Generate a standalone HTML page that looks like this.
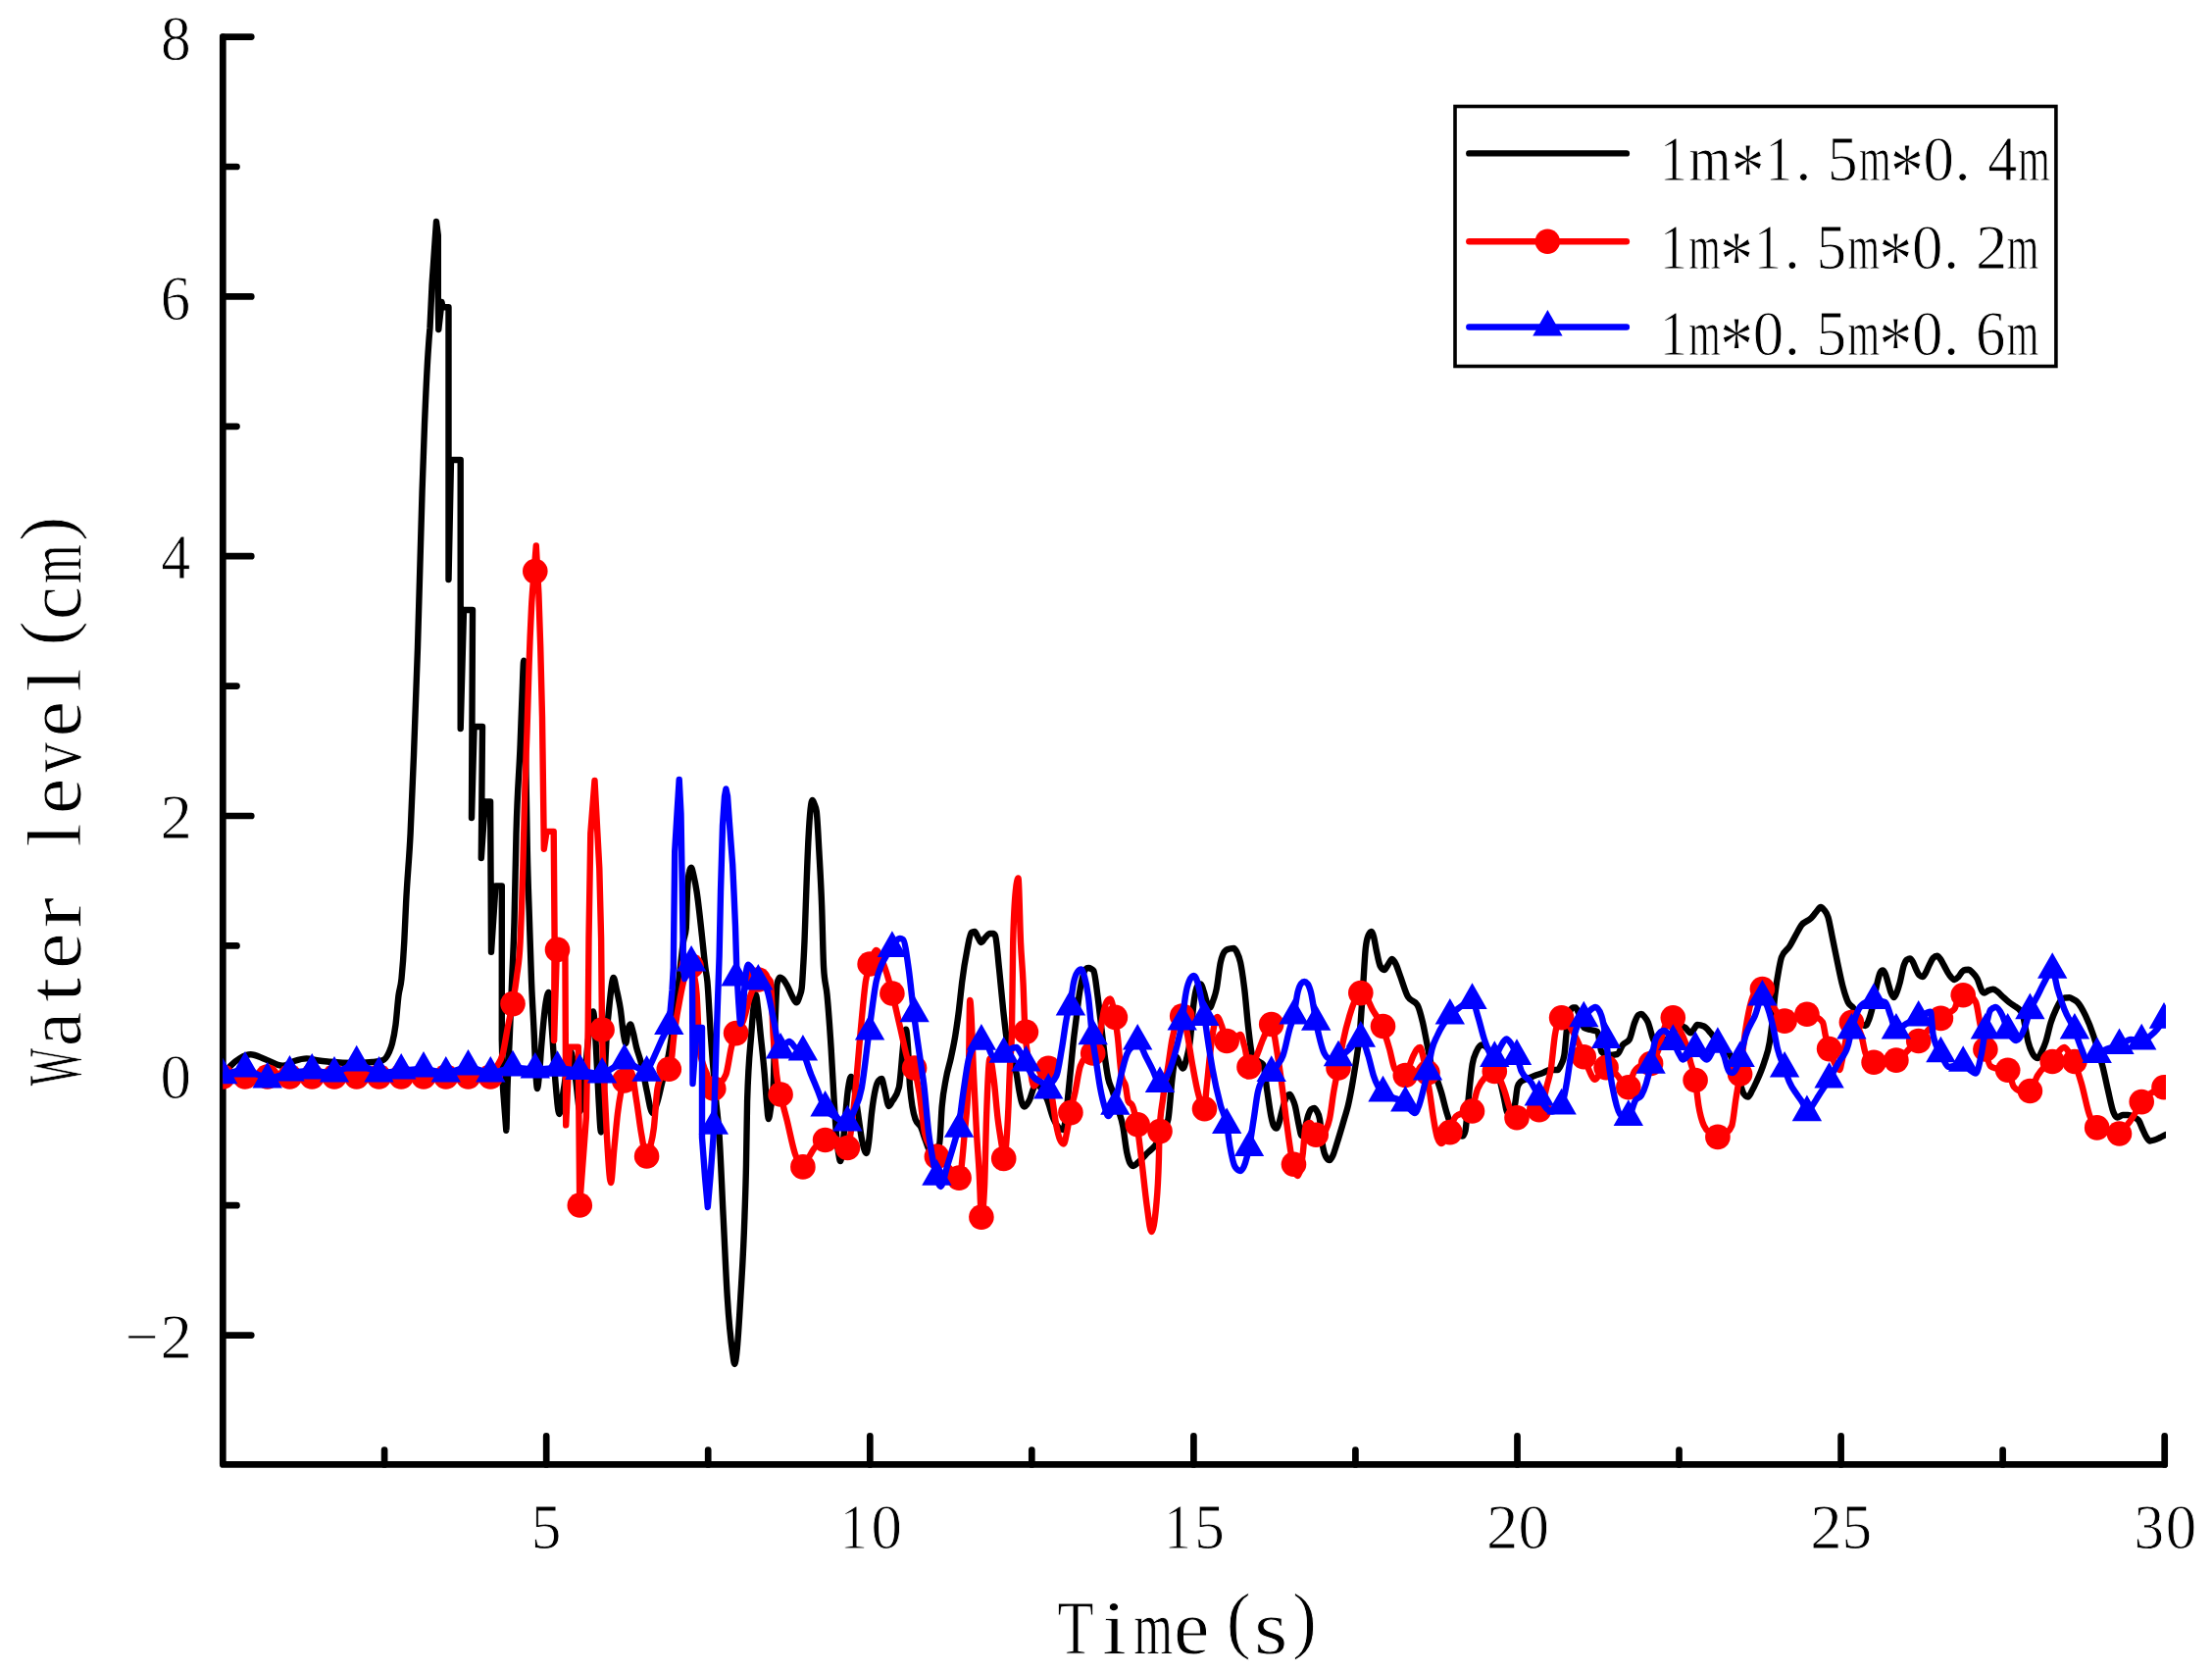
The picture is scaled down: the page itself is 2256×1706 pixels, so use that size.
<!DOCTYPE html>
<html lang="en"><head><meta charset="utf-8"><title>Water level vs Time</title>
<style>
html,body{margin:0;padding:0;background:#fff;}
svg{display:block;}
text{font-family:"Liberation Serif","DejaVu Serif",serif;fill:#000;stroke:#fff;stroke-width:0.9;vector-effect:non-scaling-stroke;}
.ax{stroke:#000;stroke-width:6.7;fill:none;stroke-linecap:round;stroke-linejoin:round;}
.ln{fill:none;stroke-width:6.4;stroke-linejoin:round;stroke-linecap:round;}
</style></head><body>
<svg width="2256" height="1706" viewBox="0 0 2256 1706">
<rect width="2256" height="1706" fill="#fff"/>
<defs><clipPath id="pc"><rect x="227.2" y="20" width="1981.8" height="1473.4"/></clipPath></defs>

<path class="ax" d="M227.3,37.6 V1493.4 H2207.7"/>
<path class="ax" d="M227.3,37.6 h29 M227.3,302.4 h29 M227.3,567.2 h29 M227.3,832.0 h29 M227.3,1096.8 h29 M227.3,1361.6 h29 M227.3,170.0 h14.2 M227.3,434.8 h14.2 M227.3,699.6 h14.2 M227.3,964.4 h14.2 M227.3,1229.2 h14.2 M557.2,1493.4 v-29 M887.3,1493.4 v-29 M1217.4,1493.4 v-29 M1547.5,1493.4 v-29 M1877.6,1493.4 v-29 M2207.7,1493.4 v-29 M392.1,1493.4 v-14.8 M722.2,1493.4 v-14.8 M1052.3,1493.4 v-14.8 M1382.4,1493.4 v-14.8 M1712.5,1493.4 v-14.8 M2042.6,1493.4 v-14.8"/>
<g id="yticks">
<text font-size="65"><tspan x="163.94" y="60.80" textLength="30.73" lengthAdjust="spacingAndGlyphs">8</tspan></text>
<text font-size="65"><tspan x="163.68" y="325.60" textLength="30.40" lengthAdjust="spacingAndGlyphs">6</tspan></text>
<text font-size="65"><tspan x="164.22" y="590.40" textLength="29.98" lengthAdjust="spacingAndGlyphs">4</tspan></text>
<text font-size="65"><tspan x="163.51" y="855.20" textLength="32.38" lengthAdjust="spacingAndGlyphs">2</tspan></text>
<text font-size="65"><tspan x="163.55" y="1120.00" textLength="31.50" lengthAdjust="spacingAndGlyphs">0</tspan></text>
<text font-size="65"><tspan x="127.97" y="1384.80" textLength="33.81" lengthAdjust="spacingAndGlyphs">−</tspan><tspan x="163.51" y="1384.80" textLength="32.38" lengthAdjust="spacingAndGlyphs">2</tspan></text>
</g>
<g id="xticks">
<text font-size="65"><tspan x="541.87" y="1579.30" textLength="30.64" lengthAdjust="spacingAndGlyphs">5</tspan></text>
<text font-size="65"><tspan x="857.05" y="1579.30" textLength="27.67" lengthAdjust="spacingAndGlyphs">1</tspan><tspan x="888.40" y="1579.30" textLength="31.50" lengthAdjust="spacingAndGlyphs">0</tspan></text>
<text font-size="65"><tspan x="1187.15" y="1579.30" textLength="27.67" lengthAdjust="spacingAndGlyphs">1</tspan><tspan x="1218.32" y="1579.30" textLength="30.64" lengthAdjust="spacingAndGlyphs">5</tspan></text>
<text font-size="65"><tspan x="1516.06" y="1579.30" textLength="32.38" lengthAdjust="spacingAndGlyphs">2</tspan><tspan x="1548.60" y="1579.30" textLength="31.50" lengthAdjust="spacingAndGlyphs">0</tspan></text>
<text font-size="65"><tspan x="1846.16" y="1579.30" textLength="32.38" lengthAdjust="spacingAndGlyphs">2</tspan><tspan x="1878.52" y="1579.30" textLength="30.64" lengthAdjust="spacingAndGlyphs">5</tspan></text>
<text font-size="65"><tspan x="2176.45" y="1579.30" textLength="30.63" lengthAdjust="spacingAndGlyphs">3</tspan><tspan x="2208.80" y="1579.30" textLength="31.50" lengthAdjust="spacingAndGlyphs">0</tspan></text>
</g>
<g id="xlabel"><text font-size="79"><tspan x="1078.57" y="1685.50" textLength="37.16" lengthAdjust="spacingAndGlyphs">T</tspan><tspan x="1124.27" y="1685.50" textLength="24.58" lengthAdjust="spacingAndGlyphs">i</tspan><tspan x="1156.13" y="1685.50" textLength="39.71" lengthAdjust="spacingAndGlyphs">m</tspan><tspan x="1197.14" y="1685.50" textLength="36.48" lengthAdjust="spacingAndGlyphs">e</tspan><tspan x="1250.79" y="1676.60" textLength="24.93" lengthAdjust="spacingAndGlyphs" font-size="77.14">(</tspan><tspan x="1279.04" y="1685.50" textLength="34.37" lengthAdjust="spacingAndGlyphs">s</tspan><tspan x="1317.92" y="1676.60" textLength="24.93" lengthAdjust="spacingAndGlyphs" font-size="77.14">)</tspan></text></g>
<g id="ylabel"><text font-size="79" transform="translate(82.3,1088) rotate(-90)"><tspan x="-19.18" y="0.00" textLength="38.40" lengthAdjust="spacingAndGlyphs">W</tspan><tspan x="20.84" y="0.00" textLength="35.47" lengthAdjust="spacingAndGlyphs">a</tspan><tspan x="66.14" y="0.00" textLength="25.24" lengthAdjust="spacingAndGlyphs">t</tspan><tspan x="99.94" y="0.00" textLength="36.48" lengthAdjust="spacingAndGlyphs">e</tspan><tspan x="141.26" y="0.00" textLength="32.00" lengthAdjust="spacingAndGlyphs">r</tspan> <tspan x="224.38" y="0.00" textLength="24.58" lengthAdjust="spacingAndGlyphs">l</tspan><tspan x="257.74" y="0.00" textLength="36.48" lengthAdjust="spacingAndGlyphs">e</tspan><tspan x="300.21" y="0.00" textLength="30.77" lengthAdjust="spacingAndGlyphs">v</tspan><tspan x="336.64" y="0.00" textLength="36.48" lengthAdjust="spacingAndGlyphs">e</tspan><tspan x="382.18" y="0.00" textLength="24.58" lengthAdjust="spacingAndGlyphs">l</tspan><tspan x="429.74" y="-8.90" textLength="24.93" lengthAdjust="spacingAndGlyphs" font-size="77.14">(</tspan><tspan x="456.09" y="0.00" textLength="34.00" lengthAdjust="spacingAndGlyphs">c</tspan><tspan x="492.88" y="0.00" textLength="39.71" lengthAdjust="spacingAndGlyphs">m</tspan><tspan x="536.32" y="-8.90" textLength="24.93" lengthAdjust="spacingAndGlyphs" font-size="77.14">)</tspan></text></g>
<g clip-path="url(#pc)">
<path class="ln" stroke="#000" d="M227.1,1097.0 C229.7,1093.7 232.4,1089.8 235.0,1087.0 C238.3,1083.5 241.7,1080.9 245.0,1079.0 C248.6,1076.9 252.1,1075.3 255.7,1075.3 C260.5,1075.3 265.2,1078.3 270.0,1080.0 C276.1,1082.1 282.2,1086.8 288.3,1086.8 C292.2,1086.8 296.1,1083.2 300.0,1082.0 C304.2,1080.7 308.5,1079.4 312.7,1079.4 C316.8,1079.4 320.9,1080.9 325.0,1081.5 C329.0,1082.1 333.0,1082.4 337.0,1082.8 C344.7,1083.5 352.3,1084.0 360.0,1084.0 C366.7,1084.0 373.3,1083.7 380.0,1083.0 C383.3,1082.7 386.7,1082.5 390.0,1081.4 C392.3,1080.7 394.5,1078.2 396.8,1073.0 C397.9,1070.5 398.9,1068.3 400.0,1064.0 C401.2,1059.3 402.3,1054.2 403.5,1045.0 C404.5,1037.1 405.5,1022.8 406.5,1015.0 C407.5,1007.2 408.5,1007.8 409.5,998.0 C410.4,988.9 411.4,977.3 412.3,960.0 C412.9,948.9 413.5,933.0 414.1,921.0 C415.6,891.0 417.1,880.3 418.6,850.0 C419.7,827.1 420.9,798.7 422.0,770.0 C423.3,736.2 424.7,701.2 426.0,660.0 C427.5,612.6 429.1,546.4 430.6,500.0 C431.4,475.8 432.2,452.9 433.0,433.0 C434.2,403.9 435.3,379.7 436.5,361.0 L437.6,345.0 L438.5,334.5 L440.6,289.7 L443.7,244.8 L445.0,226.0 L446.8,240.0 L446.8,303.0 L447.3,336.0 L450.5,308.0 L451.5,313.3 L457.5,313.3 L457.5,591.0 L460.0,469.0 L469.7,469.0 L469.7,743.0 L473.0,622.0 L482.0,622.0 L481.0,834.0 L483.6,741.0 L492.0,741.0 L490.8,875.0 L494.8,817.4 L500.1,817.4 L501.0,970.7 L505.5,903.4 L511.8,903.4 L511.8,1060.0 L513.0,1110.0 L516.3,1152.8 C516.7,1152.8 517.1,1122.4 517.5,1110.0 C518.2,1089.4 518.8,1079.7 519.5,1064.0 C520.3,1044.3 521.2,1023.7 522.0,1003.0 C522.8,982.3 523.7,970.2 524.5,940.0 C525.2,915.9 525.8,875.0 526.5,850.0 C527.9,798.8 529.2,794.1 530.6,760.0 C531.2,744.2 531.9,725.0 532.5,710.0 C533.1,696.6 533.6,673.7 534.2,673.7 C534.8,673.7 535.4,727.8 536.0,760.0 C536.6,792.2 537.2,838.4 537.8,867.0 C538.5,901.9 539.3,916.9 540.0,940.0 C540.7,961.0 541.3,983.0 542.0,1000.0 C542.8,1021.3 543.7,1032.2 544.5,1050.0 C545.2,1064.3 545.8,1084.8 546.5,1095.0 C547.0,1102.7 547.5,1110.0 548.0,1110.0 C548.7,1110.0 549.3,1101.8 550.0,1095.0 C550.7,1087.9 551.4,1076.0 552.1,1067.6 C553.6,1049.5 555.1,1032.0 556.6,1022.8 C557.6,1016.8 558.5,1012.0 559.5,1012.0 C560.6,1012.0 561.8,1035.0 562.9,1049.7 C564.1,1065.2 565.3,1089.3 566.5,1103.4 C567.8,1119.0 569.2,1136.0 570.5,1136.0 C572.0,1136.0 573.5,1118.5 575.0,1110.0 C577.3,1096.8 579.7,1072.0 582.0,1072.0 C583.7,1072.0 585.3,1089.3 587.0,1100.0 C588.5,1109.8 590.1,1133.0 591.6,1133.0 C593.1,1133.0 594.5,1112.9 596.0,1100.0 C597.3,1088.3 598.7,1070.8 600.0,1060.0 C601.7,1046.5 603.3,1031.5 605.0,1031.5 C606.0,1031.5 607.0,1053.3 608.0,1070.0 C608.8,1084.0 609.7,1105.9 610.5,1120.0 C611.3,1134.1 612.2,1154.5 613.0,1154.5 C614.0,1154.5 615.0,1127.7 616.0,1110.0 C616.8,1095.3 617.7,1073.7 618.5,1060.0 C619.7,1040.8 620.8,1030.4 622.0,1020.0 C623.2,1009.0 624.5,997.0 625.7,997.0 C626.8,997.0 627.9,1005.1 629.0,1010.0 C630.3,1015.6 631.5,1020.5 632.8,1029.0 C633.9,1036.1 634.9,1048.9 636.0,1055.0 C636.8,1059.4 637.5,1064.0 638.3,1064.0 C639.0,1064.0 639.8,1053.2 640.5,1050.0 C641.3,1046.5 642.1,1044.5 642.9,1044.5 C643.8,1044.5 644.6,1048.9 645.5,1052.0 C646.7,1056.1 647.8,1062.9 649.0,1067.6 C650.8,1074.7 652.5,1078.1 654.3,1085.5 C656.1,1093.0 657.9,1104.4 659.7,1112.4 C661.6,1121.0 663.6,1135.0 665.5,1135.0 C667.0,1135.0 668.5,1129.6 670.0,1125.0 C671.7,1119.9 673.3,1111.9 675.0,1105.0 C677.3,1095.4 679.7,1087.9 682.0,1075.0 C683.3,1067.6 684.7,1059.0 686.0,1050.0 C687.3,1041.0 688.7,1031.8 690.0,1021.0 C691.3,1010.2 692.7,996.5 694.0,985.0 C695.0,976.4 696.0,966.5 697.0,960.0 C697.9,954.2 698.8,955.7 699.7,947.0 C700.1,942.8 700.6,917.7 701.0,909.0 C701.7,895.7 702.3,891.9 703.0,889.0 C703.6,886.2 704.3,884.8 704.9,884.8 C705.8,884.8 706.6,889.4 707.5,893.0 C708.5,897.3 709.6,902.7 710.6,909.3 C712.4,920.9 714.2,938.7 716.0,955.0 C717.1,965.3 718.3,978.2 719.4,987.0 C720.1,992.2 720.7,993.9 721.4,1000.7 C722.5,1012.3 723.7,1038.7 724.8,1055.0 C725.5,1064.6 726.1,1073.4 726.8,1082.0 C727.9,1095.7 728.9,1108.0 730.0,1120.0 C731.2,1133.5 732.4,1139.8 733.6,1158.0 C735.0,1178.7 736.3,1213.9 737.7,1241.4 C739.1,1268.9 740.4,1301.1 741.8,1322.8 C743.6,1351.3 745.4,1367.6 747.2,1380.0 C747.9,1384.6 748.5,1391.0 749.2,1391.0 C749.9,1391.0 750.6,1385.9 751.3,1380.0 C752.6,1368.9 754.0,1345.5 755.3,1322.8 C756.7,1299.5 758.0,1282.4 759.4,1241.4 C759.9,1225.4 760.5,1212.8 761.0,1187.0 C761.4,1169.2 761.7,1134.9 762.1,1122.8 C763.5,1077.6 764.8,1073.4 766.2,1055.0 C767.0,1044.7 767.7,1034.7 768.5,1028.0 C769.3,1021.0 770.1,1014.3 770.9,1014.3 C771.6,1014.3 772.3,1022.4 773.0,1028.0 C773.9,1035.2 774.8,1046.0 775.7,1055.0 C777.1,1068.6 778.4,1079.1 779.8,1095.7 C780.5,1104.6 781.3,1117.0 782.0,1125.0 C782.6,1131.5 783.2,1141.0 783.8,1141.0 C784.5,1141.0 785.3,1134.7 786.0,1130.0 C786.9,1124.5 787.7,1123.1 788.6,1109.3 C789.3,1098.7 789.9,1059.1 790.6,1041.4 C791.3,1023.7 791.9,1006.0 792.6,1003.0 C793.5,998.7 794.5,996.6 795.4,996.6 C797.9,996.6 800.3,1000.6 802.8,1004.8 C804.5,1007.8 806.3,1012.9 808.0,1016.0 C809.4,1018.6 810.9,1022.4 812.3,1022.4 C813.4,1022.4 814.4,1019.3 815.5,1016.0 C816.2,1013.7 817.0,1013.2 817.7,1007.5 C818.2,1003.9 818.6,994.9 819.1,987.0 C819.6,979.1 820.0,971.3 820.5,960.0 C820.9,949.5 821.4,934.7 821.8,922.8 C822.7,898.1 823.6,872.1 824.5,855.0 C825.2,841.7 825.9,831.3 826.6,825.0 C827.3,819.0 827.9,816.0 828.6,816.0 C829.3,816.0 829.9,818.2 830.6,820.0 C831.3,821.9 832.0,822.3 832.7,827.0 C833.6,833.0 834.5,852.5 835.4,868.5 C836.3,884.5 837.2,898.5 838.1,922.8 C838.8,940.8 839.4,976.3 840.1,987.0 C841.2,1005.2 842.4,1002.5 843.5,1014.3 C844.9,1028.5 846.2,1046.8 847.6,1068.5 C848.5,1082.8 849.4,1101.3 850.3,1116.0 C851.2,1130.7 852.1,1146.2 853.0,1156.7 C853.8,1166.4 854.7,1173.3 855.5,1178.0 C856.0,1181.0 856.6,1184.0 857.1,1184.0 C857.7,1184.0 858.4,1179.7 859.0,1175.0 C860.0,1167.6 861.0,1150.8 862.0,1140.0 C863.0,1129.2 864.0,1117.0 865.0,1110.0 C866.0,1103.0 867.0,1098.0 868.0,1098.0 C869.0,1098.0 870.0,1103.2 871.0,1108.0 C872.3,1114.4 873.7,1126.0 875.0,1135.0 C876.3,1144.0 877.7,1155.3 879.0,1162.0 C880.5,1169.7 882.1,1176.0 883.6,1176.0 C884.4,1176.0 885.2,1170.6 886.0,1165.0 C887.0,1158.0 888.0,1143.4 889.0,1135.0 C890.3,1123.8 891.7,1115.6 893.0,1110.0 C894.0,1105.8 895.0,1103.2 896.0,1102.0 C897.1,1100.7 898.1,1100.0 899.2,1100.0 C900.1,1100.0 901.1,1106.5 902.0,1110.0 C903.5,1115.7 905.1,1128.0 906.6,1128.0 C907.7,1128.0 908.9,1124.9 910.0,1123.0 C912.3,1119.2 914.5,1118.3 916.8,1109.0 C918.2,1103.4 919.5,1082.4 920.9,1068.5 C921.4,1063.1 922.0,1053.7 922.5,1052.0 C923.0,1050.4 923.5,1049.6 924.0,1049.6 C924.7,1049.6 925.3,1058.3 926.0,1068.0 C926.7,1077.7 927.3,1099.4 928.0,1107.5 C929.9,1130.1 931.7,1136.1 933.6,1141.4 C935.4,1146.5 937.2,1145.2 939.0,1149.0 C940.7,1152.6 942.3,1158.8 944.0,1163.0 C945.3,1166.3 946.7,1172.0 948.0,1172.0 C949.7,1172.0 951.3,1172.0 953.0,1172.0 C954.7,1172.0 956.3,1170.3 958.0,1167.0 C958.9,1165.2 959.8,1138.3 960.7,1128.0 C962.1,1112.4 963.4,1107.8 964.8,1100.0 C966.5,1090.1 968.3,1086.2 970.0,1078.0 C971.4,1071.2 972.9,1064.8 974.3,1056.0 C975.5,1048.4 976.8,1040.0 978.0,1030.0 C979.0,1021.6 980.1,1010.3 981.1,1002.0 C982.9,987.5 984.7,977.1 986.5,968.0 C987.9,961.1 989.2,951.8 990.6,951.0 C991.7,950.3 992.9,950.0 994.0,950.0 C995.2,950.0 996.3,954.1 997.5,956.0 C998.6,957.7 999.6,961.0 1000.7,961.0 C1002.1,961.0 1003.6,957.5 1005.0,956.0 C1006.5,954.4 1008.1,952.0 1009.6,952.0 C1010.7,952.0 1011.9,952.0 1013.0,952.0 C1013.7,952.0 1014.3,952.7 1015.0,954.0 C1016.4,956.7 1017.7,975.8 1019.1,988.5 C1020.4,1000.9 1021.8,1017.0 1023.1,1029.3 C1024.5,1041.9 1025.8,1054.6 1027.2,1063.2 C1028.8,1073.2 1030.4,1076.7 1032.0,1082.0 C1033.6,1087.2 1035.1,1087.2 1036.7,1095.0 C1037.6,1099.5 1038.5,1107.1 1039.4,1112.0 C1040.3,1116.7 1041.1,1121.3 1042.0,1124.0 C1042.9,1127.0 1043.9,1128.5 1044.8,1128.5 C1045.7,1128.5 1046.6,1127.2 1047.5,1126.0 C1048.4,1124.7 1049.4,1123.1 1050.3,1121.0 C1051.5,1118.2 1052.8,1112.6 1054.0,1110.0 C1055.3,1107.1 1056.7,1105.0 1058.0,1105.0 C1059.7,1105.0 1061.3,1109.3 1063.0,1112.0 C1064.6,1114.6 1066.3,1117.2 1067.9,1121.0 C1070.2,1126.3 1072.4,1136.4 1074.7,1141.4 C1076.5,1145.3 1078.2,1148.3 1080.0,1150.0 C1081.3,1151.3 1082.7,1152.0 1084.0,1152.0 C1085.0,1152.0 1086.0,1147.2 1087.0,1140.0 C1087.9,1133.8 1088.7,1123.0 1089.6,1114.3 C1090.5,1105.3 1091.4,1096.0 1092.3,1087.0 C1093.2,1078.0 1094.1,1068.1 1095.0,1060.0 C1095.8,1052.5 1096.7,1046.7 1097.5,1040.0 C1098.5,1032.0 1099.5,1022.5 1100.5,1015.7 C1101.7,1007.7 1102.8,1001.7 1104.0,997.0 C1105.0,993.0 1106.0,989.5 1107.0,988.5 C1108.0,987.5 1109.0,987.0 1110.0,987.0 C1111.0,987.0 1112.0,987.4 1113.0,988.0 C1113.8,988.5 1114.6,988.7 1115.4,990.0 C1116.8,992.3 1118.1,1005.6 1119.5,1015.7 C1120.8,1025.5 1122.2,1038.4 1123.5,1049.6 C1124.9,1061.0 1126.2,1074.0 1127.6,1083.5 C1128.5,1089.8 1129.4,1095.6 1130.3,1100.0 C1131.7,1106.6 1133.0,1107.8 1134.4,1112.0 C1136.3,1117.7 1138.1,1123.7 1140.0,1130.0 C1141.7,1135.8 1143.5,1139.1 1145.2,1148.2 C1146.6,1155.4 1147.9,1168.8 1149.3,1175.3 C1150.4,1180.4 1151.4,1184.2 1152.5,1186.0 C1153.7,1188.0 1154.9,1189.0 1156.1,1189.0 C1157.4,1189.0 1158.7,1187.1 1160.0,1186.0 C1161.4,1184.8 1162.8,1183.4 1164.2,1182.0 C1166.5,1179.8 1168.7,1177.2 1171.0,1175.0 C1173.3,1172.8 1175.5,1171.4 1177.8,1168.5 C1180.2,1165.5 1182.6,1161.9 1185.0,1157.0 C1187.1,1152.6 1189.3,1151.8 1191.4,1141.4 C1192.7,1134.9 1194.1,1111.9 1195.4,1100.7 C1196.1,1094.8 1196.8,1088.7 1197.5,1085.0 C1198.3,1080.5 1199.2,1078.0 1200.0,1078.0 C1201.0,1078.0 1202.0,1082.2 1203.0,1084.0 C1204.2,1086.1 1205.3,1089.5 1206.5,1089.5 C1207.7,1089.5 1208.8,1084.4 1210.0,1080.0 C1211.2,1075.5 1212.4,1071.6 1213.6,1062.8 C1214.9,1053.0 1216.3,1031.6 1217.6,1022.0 C1218.7,1013.8 1219.9,1007.7 1221.0,1006.0 C1222.1,1004.3 1223.3,1003.5 1224.4,1003.5 C1225.6,1003.5 1226.8,1008.3 1228.0,1012.0 C1229.0,1015.1 1230.0,1020.4 1231.0,1023.0 C1232.0,1025.5 1232.9,1027.5 1233.9,1027.5 C1234.9,1027.5 1236.0,1023.8 1237.0,1021.0 C1238.2,1017.7 1239.5,1014.6 1240.7,1008.5 C1242.1,1001.8 1243.4,987.7 1244.8,981.4 C1246.6,973.1 1248.4,970.4 1250.2,969.0 C1251.5,968.0 1252.7,967.8 1254.0,967.5 C1255.4,967.2 1256.9,967.0 1258.3,967.0 C1259.4,967.0 1260.4,968.8 1261.5,971.0 C1262.7,973.4 1263.9,975.8 1265.1,981.4 C1266.5,987.7 1267.8,997.2 1269.2,1008.5 C1270.6,1019.8 1271.9,1037.9 1273.3,1049.3 C1274.6,1060.4 1276.0,1073.8 1277.3,1076.4 C1279.2,1080.1 1281.1,1080.4 1283.0,1082.0 C1284.7,1083.4 1286.5,1083.2 1288.2,1085.5 C1289.6,1087.3 1290.9,1103.1 1292.3,1112.0 C1293.6,1120.6 1295.0,1131.6 1296.3,1138.0 C1297.2,1142.3 1298.1,1146.4 1299.0,1148.0 C1299.9,1149.7 1300.9,1150.5 1301.8,1150.5 C1302.7,1150.5 1303.6,1147.7 1304.5,1145.0 C1305.4,1142.3 1306.3,1137.7 1307.2,1134.3 C1308.5,1129.5 1309.7,1123.9 1311.0,1121.0 C1312.4,1117.7 1313.9,1116.0 1315.3,1116.0 C1316.2,1116.0 1317.1,1118.1 1318.0,1120.0 C1318.9,1121.9 1319.9,1124.1 1320.8,1127.5 C1322.1,1132.4 1323.5,1142.1 1324.8,1147.8 C1325.7,1151.7 1326.6,1158.0 1327.5,1158.0 C1328.5,1158.0 1329.5,1154.9 1330.5,1152.0 C1331.8,1148.4 1333.0,1140.6 1334.3,1137.0 C1335.4,1134.0 1336.4,1131.7 1337.5,1131.0 C1338.5,1130.3 1339.4,1130.0 1340.4,1130.0 C1341.3,1130.0 1342.1,1131.3 1343.0,1133.0 C1344.0,1134.8 1344.9,1135.8 1345.9,1141.0 C1347.0,1147.1 1348.2,1163.5 1349.3,1170.0 C1350.4,1176.1 1351.4,1178.2 1352.5,1180.0 C1353.7,1182.0 1354.8,1183.0 1356.0,1183.0 C1357.2,1183.0 1358.3,1180.6 1359.5,1178.0 C1360.6,1175.6 1361.7,1171.6 1362.8,1168.2 C1365.5,1159.8 1368.3,1150.4 1371.0,1141.0 C1372.3,1136.4 1373.7,1132.7 1375.0,1127.0 C1375.9,1123.1 1376.8,1118.7 1377.7,1114.0 C1379.1,1106.9 1380.4,1099.0 1381.8,1090.0 C1383.6,1078.2 1385.4,1071.2 1387.2,1049.3 C1388.1,1037.9 1389.1,1022.3 1390.0,1008.5 C1390.9,995.2 1391.8,976.7 1392.7,967.8 C1393.6,958.6 1394.6,956.3 1395.5,954.0 C1396.6,951.3 1397.7,950.0 1398.8,950.0 C1399.5,950.0 1400.3,952.4 1401.0,955.0 C1401.8,958.0 1402.7,963.8 1403.5,967.8 C1404.9,974.3 1406.2,982.3 1407.6,985.0 C1409.0,987.7 1410.3,989.0 1411.7,989.0 C1413.0,989.0 1414.2,985.7 1415.5,984.0 C1416.9,982.1 1418.4,978.0 1419.8,978.0 C1421.0,978.0 1422.3,980.6 1423.5,983.0 C1425.0,985.9 1426.5,991.0 1428.0,995.0 C1430.7,1002.2 1433.4,1012.1 1436.1,1016.7 C1439.3,1022.1 1442.4,1019.4 1445.6,1024.8 C1447.4,1027.9 1449.2,1034.9 1451.0,1042.5 C1452.4,1048.3 1453.7,1056.0 1455.1,1062.8 C1456.5,1069.6 1457.8,1077.7 1459.2,1083.2 C1461.0,1090.4 1462.8,1092.9 1464.6,1098.0 C1466.4,1103.1 1468.2,1108.0 1470.0,1114.0 C1471.8,1120.0 1473.6,1128.4 1475.4,1134.3 C1477.3,1140.4 1479.1,1146.2 1481.0,1150.0 C1482.7,1153.4 1484.3,1156.1 1486.0,1157.0 C1487.9,1158.0 1489.8,1158.5 1491.7,1158.5 C1492.6,1158.5 1493.6,1156.7 1494.5,1153.0 C1495.5,1149.1 1496.5,1131.7 1497.5,1122.0 C1498.9,1108.4 1500.3,1093.3 1501.7,1085.0 C1503.1,1076.9 1504.4,1075.4 1505.8,1072.3 C1507.6,1068.2 1509.4,1065.5 1511.2,1065.5 C1513.5,1065.5 1515.7,1067.0 1518.0,1070.0 C1520.0,1072.6 1522.0,1077.5 1524.0,1083.0 C1526.1,1088.6 1528.1,1095.3 1530.2,1103.5 C1531.5,1108.5 1532.7,1114.3 1534.0,1120.0 C1535.0,1124.5 1536.0,1132.3 1537.0,1134.0 C1538.2,1136.0 1539.3,1137.0 1540.5,1137.0 C1541.3,1137.0 1542.2,1135.1 1543.0,1133.0 C1543.7,1131.2 1544.4,1129.4 1545.1,1126.0 C1546.0,1121.7 1546.9,1110.8 1547.8,1108.0 C1548.9,1104.7 1549.9,1104.1 1551.0,1103.0 C1552.7,1101.3 1554.3,1101.3 1556.0,1100.5 C1559.0,1099.1 1562.0,1098.1 1565.0,1097.0 C1567.9,1095.9 1570.7,1095.1 1573.6,1094.0 C1576.1,1093.1 1578.5,1091.0 1581.0,1091.0 C1583.5,1091.0 1586.0,1091.0 1588.5,1091.0 C1589.7,1091.0 1590.8,1088.6 1592.0,1086.0 C1593.1,1083.6 1594.2,1082.8 1595.3,1076.4 C1596.2,1071.2 1597.1,1056.6 1598.0,1049.3 C1598.7,1043.9 1599.3,1039.3 1600.0,1036.0 C1600.7,1032.6 1601.4,1030.7 1602.1,1029.5 C1602.9,1028.2 1603.7,1027.5 1604.5,1027.5 C1605.3,1027.5 1606.1,1027.5 1606.9,1027.5 C1607.9,1027.5 1609.0,1030.9 1610.0,1033.0 C1611.9,1036.9 1613.8,1046.8 1615.7,1048.0 C1617.8,1049.3 1619.9,1049.4 1622.0,1050.0 C1624.4,1050.7 1626.9,1050.7 1629.3,1052.0 C1630.6,1052.7 1632.0,1070.8 1633.3,1072.3 C1635.5,1074.8 1637.8,1076.0 1640.0,1076.0 C1643.2,1076.0 1646.4,1075.7 1649.6,1075.0 C1651.4,1074.6 1653.2,1067.9 1655.0,1065.5 C1657.3,1062.5 1659.5,1063.7 1661.8,1060.0 C1663.6,1057.1 1665.4,1047.0 1667.2,1042.5 C1668.5,1039.3 1669.7,1035.8 1671.0,1035.0 C1672.0,1034.3 1673.0,1034.0 1674.0,1034.0 C1675.0,1034.0 1676.0,1035.3 1677.0,1036.5 C1678.3,1038.0 1679.5,1039.6 1680.8,1042.5 C1682.6,1046.6 1684.4,1056.3 1686.2,1060.0 C1688.1,1064.0 1690.1,1066.0 1692.0,1066.0 C1694.7,1066.0 1697.3,1062.7 1700.0,1060.0 C1702.7,1057.3 1705.3,1052.4 1708.0,1050.0 C1710.0,1048.2 1712.0,1046.0 1714.0,1046.0 C1715.6,1046.0 1717.2,1046.9 1718.8,1048.0 C1720.6,1049.2 1722.4,1053.3 1724.2,1053.3 C1725.5,1053.3 1726.7,1050.6 1728.0,1049.0 C1729.0,1047.8 1730.0,1045.0 1731.0,1045.0 C1733.3,1045.0 1735.5,1045.5 1737.8,1046.5 C1738.9,1047.0 1739.9,1048.0 1741.0,1049.0 C1742.2,1050.2 1743.4,1051.8 1744.6,1053.3 C1746.4,1055.5 1748.2,1057.9 1750.0,1060.0 C1752.7,1063.2 1755.3,1066.1 1758.0,1069.0 C1760.3,1071.5 1762.6,1071.8 1764.9,1076.4 C1766.6,1079.8 1768.3,1085.0 1770.0,1090.0 C1771.7,1094.9 1773.3,1101.1 1775.0,1106.0 C1776.2,1109.4 1777.3,1113.9 1778.5,1115.5 C1779.9,1117.5 1781.4,1118.5 1782.8,1118.5 C1784.2,1118.5 1785.6,1114.5 1787.0,1112.0 C1788.4,1109.5 1789.8,1106.6 1791.2,1103.5 C1793.9,1097.6 1796.6,1091.9 1799.3,1083.2 C1801.1,1077.3 1803.0,1074.3 1804.8,1062.8 C1805.7,1057.2 1806.6,1050.4 1807.5,1042.5 C1808.4,1034.6 1809.3,1023.1 1810.2,1015.3 C1811.6,1003.4 1812.9,995.5 1814.3,988.2 C1815.2,983.4 1816.1,978.4 1817.0,976.0 C1819.7,968.7 1822.4,969.4 1825.1,965.1 C1827.8,960.8 1830.6,955.0 1833.3,950.2 C1834.6,947.9 1836.0,945.3 1837.3,943.4 C1840.5,938.9 1843.6,939.8 1846.8,936.6 C1848.6,934.7 1850.5,932.1 1852.3,930.0 C1853.9,928.2 1855.4,925.0 1857.0,925.0 C1858.2,925.0 1859.3,926.5 1860.5,928.0 C1861.8,929.7 1863.2,930.9 1864.5,935.3 C1865.8,939.7 1867.2,947.9 1868.5,954.3 C1870.3,963.1 1872.2,972.7 1874.0,981.4 C1875.8,989.9 1877.6,999.0 1879.4,1005.8 C1881.2,1012.6 1883.0,1018.3 1884.8,1022.0 C1886.6,1025.8 1888.5,1025.1 1890.3,1028.0 C1892.2,1031.0 1894.1,1037.0 1896.0,1040.0 C1898.2,1043.4 1900.3,1046.0 1902.5,1046.0 C1903.7,1046.0 1904.8,1043.0 1906.0,1040.0 C1907.1,1037.2 1908.2,1033.3 1909.3,1028.9 C1911.1,1021.7 1912.9,1009.0 1914.7,1001.8 C1915.6,998.0 1916.6,993.8 1917.5,992.0 C1918.4,990.3 1919.2,989.5 1920.1,989.5 C1921.0,989.5 1921.9,991.0 1922.8,993.0 C1923.7,995.0 1924.6,998.8 1925.5,1001.8 C1926.5,1005.1 1927.5,1009.5 1928.5,1012.0 C1929.5,1014.6 1930.6,1017.0 1931.6,1017.0 C1932.6,1017.0 1933.5,1014.3 1934.5,1012.0 C1935.6,1009.4 1936.6,1005.7 1937.7,1001.8 C1939.1,996.8 1940.4,988.0 1941.8,984.1 C1942.9,981.0 1943.9,979.2 1945.0,978.5 C1946.0,977.8 1946.9,977.5 1947.9,977.5 C1948.9,977.5 1950.0,979.2 1951.0,981.0 C1952.0,982.8 1953.0,986.1 1954.0,988.2 C1955.2,990.7 1956.3,993.4 1957.5,994.5 C1958.6,995.5 1959.7,996.0 1960.8,996.0 C1961.9,996.0 1962.9,993.8 1964.0,992.0 C1965.2,990.0 1966.4,986.5 1967.6,984.1 C1968.9,981.5 1970.2,978.4 1971.5,977.0 C1972.9,975.5 1974.3,974.7 1975.7,974.7 C1976.8,974.7 1977.9,976.5 1979.0,978.0 C1980.2,979.6 1981.3,982.0 1982.5,984.1 C1984.3,987.3 1986.2,991.5 1988.0,994.0 C1989.8,996.4 1991.6,999.0 1993.4,999.0 C1994.8,999.0 1996.1,997.4 1997.5,996.0 C1998.8,994.6 2000.2,991.7 2001.5,990.5 C2002.5,989.6 2003.5,989.2 2004.5,989.0 C2005.5,988.8 2006.6,988.7 2007.6,988.7 C2009.1,988.7 2010.5,990.5 2012.0,992.0 C2013.5,993.5 2014.9,995.0 2016.4,997.7 C2018.2,1001.0 2020.1,1009.3 2021.9,1011.3 C2022.6,1012.1 2023.3,1012.5 2024.0,1012.5 C2025.3,1012.5 2026.7,1010.6 2028.0,1010.0 C2029.6,1009.3 2031.1,1008.7 2032.7,1008.7 C2034.1,1008.7 2035.6,1010.0 2037.0,1011.0 C2038.7,1012.3 2040.5,1014.4 2042.2,1016.0 C2044.5,1018.1 2046.7,1020.2 2049.0,1022.0 C2051.0,1023.6 2053.0,1024.7 2055.0,1026.2 C2056.7,1027.4 2058.3,1027.7 2060.0,1030.0 C2061.1,1031.5 2062.1,1031.9 2063.2,1035.7 C2064.1,1038.9 2065.0,1044.8 2065.9,1049.3 C2066.8,1053.8 2067.7,1059.1 2068.6,1062.8 C2070.0,1068.4 2071.3,1071.1 2072.7,1073.7 C2074.5,1077.2 2076.3,1079.0 2078.1,1079.0 C2079.4,1079.0 2080.7,1075.5 2082.0,1073.0 C2083.4,1070.2 2084.9,1067.1 2086.3,1062.8 C2088.1,1057.4 2089.9,1048.1 2091.7,1042.5 C2093.5,1036.8 2095.3,1032.8 2097.1,1028.9 C2098.7,1025.4 2100.4,1021.9 2102.0,1020.0 C2103.3,1018.5 2104.7,1017.6 2106.0,1017.5 C2107.6,1017.4 2109.1,1017.3 2110.7,1017.3 C2112.0,1017.3 2113.2,1018.3 2114.5,1019.0 C2115.9,1019.8 2117.4,1020.5 2118.8,1022.0 C2121.5,1024.8 2124.3,1030.0 2127.0,1035.7 C2129.7,1041.3 2132.4,1048.0 2135.1,1056.0 C2136.7,1060.9 2138.4,1066.5 2140.0,1072.0 C2141.5,1077.2 2143.1,1082.0 2144.6,1088.0 C2146.4,1095.1 2148.2,1104.3 2150.0,1112.0 C2151.8,1119.8 2153.7,1129.8 2155.5,1134.3 C2156.8,1137.6 2158.2,1139.5 2159.5,1139.5 C2161.3,1139.5 2163.2,1137.0 2165.0,1137.0 C2166.8,1137.0 2168.6,1137.0 2170.4,1137.0 C2172.3,1137.0 2174.1,1138.0 2176.0,1139.0 C2177.7,1139.9 2179.5,1140.2 2181.2,1142.5 C2182.5,1144.2 2183.7,1148.3 2185.0,1151.0 C2186.5,1154.2 2187.9,1157.8 2189.4,1160.0 C2190.5,1161.7 2191.7,1163.5 2192.8,1163.5 C2194.2,1163.5 2195.6,1162.9 2197.0,1162.5 C2199.0,1161.9 2201.0,1160.9 2203.0,1160.0 C2204.8,1159.2 2206.6,1158.0 2208.4,1157.3 C2209.6,1156.8 2210.8,1156.4 2212.0,1156.0"/>
<path class="ln" stroke="#f00" d="M227.2,1098.0 L500.0,1098.0 L505.5,1089.0 C507.9,1084.7 510.3,1084.1 512.7,1074.8 C514.5,1067.8 516.3,1055.1 518.1,1046.0 C519.7,1037.9 521.3,1032.2 522.9,1023.0 C524.3,1015.1 525.6,1007.4 527.0,995.9 C528.2,985.8 529.4,983.9 530.6,960.0 C531.5,942.1 532.4,915.9 533.3,885.5 C534.0,860.7 534.8,824.1 535.5,800.0 C536.2,778.1 536.8,765.0 537.5,745.0 C538.2,725.0 538.8,699.1 539.5,680.0 C540.3,656.1 541.2,635.8 542.0,620.0 C542.8,604.2 543.7,596.0 544.5,585.0 L546.8,556.5 L549.4,605.5 L551.2,659.3 L553.0,731.0 L553.8,790.0 L554.8,865.8 L557.5,847.9 L564.7,847.9 L565.6,957.0 L565.1,1061.0 L567.9,968.4 L576.4,969.0 L577.2,1147.4 L580.8,1067.6 L589.8,1067.6 L591.2,1229.0 L597.9,1139.3 L599.7,1049.7 L600.5,957.0 L602.3,849.7 L606.5,796.0 L611.3,885.5 L613.1,957.2 L614.0,1050.0 C614.7,1083.3 615.3,1084.7 616.0,1100.0 C617.0,1123.0 618.0,1143.6 619.0,1160.0 C620.3,1181.8 621.7,1206.0 623.0,1206.0 C624.2,1206.0 625.3,1181.8 626.5,1170.0 C627.7,1158.2 628.8,1144.7 630.0,1135.0 C632.2,1117.1 634.3,1107.7 636.5,1102.0 C638.9,1095.8 641.2,1092.7 643.6,1092.7 C645.4,1092.7 647.2,1110.5 649.0,1121.4 C650.8,1132.1 652.5,1147.4 654.3,1157.2 C656.0,1166.4 657.6,1179.0 659.3,1179.0 C660.5,1179.0 661.8,1174.6 663.0,1170.0 C664.3,1165.1 665.6,1160.7 666.9,1150.0 C668.1,1140.1 669.3,1116.9 670.5,1110.0 C672.0,1101.3 673.5,1099.4 675.0,1097.0 C677.8,1092.5 680.6,1094.8 683.4,1090.3 C684.8,1088.1 686.1,1065.4 687.5,1055.0 C689.8,1037.7 692.0,1025.4 694.3,1014.0 C696.1,1004.9 697.9,995.5 699.7,991.0 C701.3,987.0 702.9,985.0 704.5,985.0 C705.7,985.0 706.8,988.7 708.0,995.0 C708.9,999.7 709.7,1002.2 710.6,1014.0 C711.5,1026.3 712.4,1061.0 713.3,1068.5 C714.9,1081.5 716.4,1082.9 718.0,1088.0 C719.1,1091.7 720.3,1091.9 721.4,1097.0 C722.3,1101.0 723.2,1113.0 724.1,1113.0 C725.2,1113.0 726.2,1112.6 727.3,1112.0 C729.2,1110.9 731.1,1108.3 733.0,1106.0 C735.5,1103.0 737.9,1102.6 740.4,1095.7 C742.2,1090.7 744.0,1076.1 745.8,1068.5 C747.2,1062.7 748.5,1057.6 749.9,1053.6 C752.6,1045.7 755.3,1048.1 758.0,1041.0 C760.3,1035.0 762.5,1023.7 764.8,1017.0 C767.4,1009.2 770.1,1001.2 772.7,999.0 C775.1,997.0 777.6,996.0 780.0,996.0 C782.0,996.0 783.9,997.6 785.9,1000.7 C786.8,1002.1 787.7,1040.1 788.6,1055.0 C789.7,1073.7 790.9,1085.7 792.0,1095.7 C793.3,1107.4 794.7,1109.8 796.0,1116.0 C798.3,1126.6 800.5,1133.8 802.8,1143.0 C805.5,1154.1 808.3,1169.2 811.0,1177.0 C813.7,1184.7 816.4,1189.9 819.1,1189.9 C821.1,1189.9 823.0,1183.3 825.0,1180.0 C826.7,1177.2 828.3,1174.0 830.0,1171.7 C833.6,1166.6 837.2,1163.5 840.8,1162.5 C844.4,1161.5 848.1,1161.0 851.7,1161.0 C855.8,1161.0 859.8,1170.5 863.9,1170.5 C866.2,1170.5 868.4,1149.1 870.7,1129.6 C872.9,1110.4 875.2,1078.3 877.4,1055.0 C879.2,1035.9 881.1,1012.8 882.9,1000.7 C884.5,990.4 886.0,987.9 887.6,983.0 C889.6,976.6 891.7,969.0 893.7,969.0 C895.5,969.0 897.2,974.1 899.0,978.0 C901.3,983.1 903.7,990.0 906.0,998.0 C907.3,1002.6 908.7,1007.8 910.0,1013.0 C912.7,1023.7 915.5,1036.6 918.2,1048.2 C920.9,1059.6 923.6,1075.4 926.3,1082.0 C928.2,1086.6 930.1,1084.3 932.0,1089.0 C933.9,1093.6 935.7,1103.0 937.6,1114.3 C939.4,1125.2 941.2,1146.0 943.0,1155.0 C945.0,1165.0 947.0,1166.0 949.0,1170.0 C951.1,1174.2 953.2,1176.7 955.3,1179.4 C959.4,1184.6 963.4,1186.1 967.5,1190.0 C971.1,1193.4 974.7,1201.1 978.3,1201.1 C980.1,1201.1 982.0,1175.9 983.8,1155.0 C985.1,1139.8 986.5,1136.9 987.8,1100.7 C988.3,1088.0 988.7,1020.0 989.2,1020.0 C990.6,1020.0 991.9,1073.4 993.3,1100.7 C994.2,1118.6 995.1,1139.2 996.0,1155.0 C996.9,1170.8 997.8,1179.9 998.7,1195.7 C999.5,1209.2 1000.2,1241.1 1001.0,1241.1 C1002.0,1241.1 1003.1,1230.4 1004.1,1209.0 C1004.7,1195.9 1005.4,1159.6 1006.0,1141.0 C1007.2,1105.8 1008.4,1079.5 1009.6,1079.5 C1010.9,1079.5 1012.3,1090.6 1013.6,1100.7 C1015.0,1111.1 1016.3,1130.1 1017.7,1141.4 C1019.1,1152.7 1020.4,1159.6 1021.8,1168.5 C1022.5,1172.8 1023.1,1181.4 1023.8,1181.4 C1024.7,1181.4 1025.6,1174.7 1026.5,1163.0 C1027.2,1154.4 1027.8,1143.4 1028.5,1128.0 C1029.0,1116.4 1029.5,1098.2 1030.0,1087.0 C1030.6,1072.8 1031.3,1076.7 1031.9,1056.0 C1032.3,1041.9 1032.8,977.7 1033.2,961.0 C1034.1,925.0 1035.1,915.6 1036.0,907.0 C1036.8,899.3 1037.7,895.5 1038.5,895.5 C1039.3,895.5 1040.2,943.2 1041.0,961.0 C1041.8,978.8 1042.7,984.3 1043.5,1002.0 C1044.2,1016.2 1044.8,1042.7 1045.5,1052.3 C1047.1,1075.4 1048.7,1077.3 1050.3,1087.0 C1051.6,1095.1 1053.0,1107.5 1054.3,1107.5 C1056.2,1107.5 1058.1,1102.7 1060.0,1100.0 C1062.4,1096.6 1064.8,1089.2 1067.2,1089.2 C1069.2,1089.2 1071.3,1108.7 1073.3,1121.0 C1074.7,1129.3 1076.0,1141.2 1077.4,1148.2 C1078.6,1154.4 1079.8,1159.2 1081.0,1162.0 C1082.3,1165.0 1083.6,1166.5 1084.9,1166.5 C1085.9,1166.5 1087.0,1159.8 1088.0,1155.0 C1089.2,1149.5 1090.4,1140.7 1091.6,1134.6 C1093.2,1126.5 1094.8,1121.7 1096.4,1114.3 C1098.2,1106.0 1100.0,1092.3 1101.8,1087.0 C1104.1,1080.3 1106.3,1079.2 1108.6,1077.0 C1110.3,1075.4 1112.0,1075.7 1113.7,1074.0 C1115.1,1072.5 1116.6,1071.9 1118.0,1068.0 C1119.3,1064.3 1120.7,1058.3 1122.0,1052.0 C1123.4,1045.4 1124.8,1034.5 1126.2,1029.0 C1127.1,1025.4 1128.1,1022.4 1129.0,1021.0 C1130.1,1019.3 1131.2,1018.5 1132.3,1018.5 C1133.9,1018.5 1135.5,1027.9 1137.1,1037.4 C1138.0,1042.7 1138.9,1049.0 1139.8,1056.4 C1141.2,1067.6 1142.5,1090.0 1143.9,1097.0 C1145.3,1104.0 1146.6,1101.4 1148.0,1107.5 C1148.9,1111.5 1149.8,1121.2 1150.7,1123.0 C1152.0,1125.7 1153.4,1124.3 1154.7,1127.0 C1156.3,1130.2 1157.9,1137.5 1159.5,1146.8 C1161.1,1155.9 1162.6,1169.4 1164.2,1182.0 C1166.0,1196.7 1167.9,1216.7 1169.7,1229.6 C1171.3,1240.6 1172.8,1256.0 1174.4,1256.0 C1176.0,1256.0 1177.6,1247.2 1179.2,1229.6 C1180.1,1219.7 1181.0,1213.7 1181.9,1182.0 C1182.1,1174.9 1182.3,1157.3 1182.5,1153.6 C1183.7,1131.9 1184.8,1130.5 1186.0,1121.0 C1187.8,1106.4 1189.6,1098.8 1191.4,1087.0 C1192.7,1078.3 1194.1,1067.1 1195.4,1060.0 C1196.9,1051.8 1198.5,1047.0 1200.0,1043.0 C1201.5,1039.0 1203.1,1036.0 1204.6,1036.0 C1206.4,1036.0 1208.2,1042.6 1210.0,1050.0 C1212.0,1058.3 1214.0,1074.2 1216.0,1085.0 C1218.0,1095.8 1220.0,1107.3 1222.0,1115.0 C1223.9,1122.4 1225.9,1130.8 1227.8,1130.8 C1228.9,1130.8 1229.9,1114.5 1231.0,1105.0 C1232.0,1096.1 1233.0,1084.6 1234.0,1076.0 C1235.2,1065.9 1236.3,1056.4 1237.5,1050.0 C1238.8,1042.9 1240.1,1037.0 1241.4,1037.0 C1242.9,1037.0 1244.5,1042.1 1246.0,1046.0 C1247.6,1050.2 1249.3,1061.5 1250.9,1061.5 C1253.3,1061.5 1255.6,1061.0 1258.0,1060.0 C1260.3,1059.0 1262.7,1055.0 1265.0,1055.0 C1266.5,1055.0 1268.0,1062.5 1269.5,1068.0 C1271.0,1073.5 1272.5,1088.0 1274.0,1088.0 C1276.3,1088.0 1278.7,1082.7 1281.0,1078.0 C1283.3,1073.3 1285.7,1065.2 1288.0,1060.0 C1290.8,1053.8 1293.5,1044.5 1296.3,1044.5 C1298.5,1044.5 1300.8,1062.6 1303.0,1076.0 C1304.8,1087.0 1306.7,1101.0 1308.5,1115.0 C1309.9,1125.4 1311.2,1137.7 1312.6,1147.8 C1314.6,1162.8 1316.7,1178.6 1318.7,1187.2 C1320.3,1194.0 1321.9,1199.0 1323.5,1199.0 C1325.3,1199.0 1327.1,1189.8 1328.9,1175.0 C1329.8,1167.6 1330.7,1148.9 1331.6,1147.8 C1333.1,1145.9 1334.5,1145.0 1336.0,1145.0 C1338.2,1145.0 1340.3,1157.3 1342.5,1157.3 C1344.7,1157.3 1346.8,1156.9 1349.0,1156.0 C1351.3,1155.1 1353.7,1151.0 1356.0,1141.0 C1357.4,1135.1 1358.7,1122.1 1360.1,1114.0 C1361.7,1104.5 1363.3,1097.6 1364.9,1089.0 C1366.5,1080.6 1368.0,1070.5 1369.6,1062.8 C1371.9,1051.6 1374.1,1043.3 1376.4,1035.7 C1378.3,1029.5 1380.1,1023.8 1382.0,1020.0 C1384.0,1016.0 1385.9,1012.6 1387.9,1012.6 C1389.6,1012.6 1391.3,1013.9 1393.0,1016.0 C1395.2,1018.7 1397.3,1024.9 1399.5,1029.0 C1402.9,1035.4 1406.2,1038.1 1409.6,1046.5 C1412.1,1052.8 1414.6,1060.9 1417.1,1069.6 C1418.9,1075.9 1420.7,1087.1 1422.5,1090.0 C1425.2,1094.3 1428.0,1096.5 1430.7,1096.5 C1432.5,1096.5 1434.2,1093.2 1436.0,1090.0 C1437.8,1086.6 1439.7,1080.2 1441.5,1076.4 C1442.7,1074.0 1443.8,1071.4 1445.0,1070.0 C1446.1,1068.7 1447.2,1068.0 1448.3,1068.0 C1449.4,1068.0 1450.4,1073.6 1451.5,1078.0 C1452.5,1082.3 1453.6,1088.4 1454.6,1094.0 C1455.7,1099.7 1456.7,1105.4 1457.8,1112.0 C1459.2,1120.4 1460.5,1131.9 1461.9,1140.0 C1463.2,1147.9 1464.6,1156.1 1465.9,1160.0 C1467.3,1164.0 1468.6,1166.0 1470.0,1166.0 C1472.3,1166.0 1474.5,1158.7 1476.8,1154.6 C1479.5,1149.6 1482.3,1140.9 1485.0,1138.3 C1487.3,1136.1 1489.7,1135.9 1492.0,1135.0 C1494.7,1134.0 1497.3,1134.3 1500.0,1133.0 C1502.4,1131.8 1504.7,1116.0 1507.1,1110.3 C1509.7,1103.9 1512.4,1100.9 1515.0,1098.0 C1517.8,1094.9 1520.6,1092.5 1523.4,1092.5 C1527.0,1092.5 1530.7,1101.7 1534.3,1112.0 C1536.1,1117.1 1537.9,1125.5 1539.7,1130.0 C1542.0,1135.6 1544.2,1139.7 1546.5,1139.7 C1551.5,1139.7 1556.4,1134.3 1561.4,1133.0 C1564.1,1132.3 1566.9,1132.5 1569.6,1131.6 C1571.1,1131.1 1572.5,1126.7 1574.0,1122.0 C1575.2,1118.1 1576.5,1112.1 1577.7,1107.0 C1579.1,1101.4 1580.4,1098.7 1581.8,1090.0 C1583.1,1081.5 1584.5,1064.3 1585.8,1056.0 C1586.9,1049.4 1587.9,1044.5 1589.0,1042.0 C1590.2,1039.1 1591.4,1037.7 1592.6,1037.7 C1594.7,1037.7 1596.9,1041.2 1599.0,1044.0 C1601.4,1047.1 1603.8,1051.4 1606.2,1056.0 C1609.4,1062.1 1612.5,1069.6 1615.7,1077.7 C1617.5,1082.2 1619.2,1088.2 1621.0,1092.0 C1622.8,1096.0 1624.7,1100.8 1626.5,1100.8 C1628.0,1100.8 1629.5,1097.9 1631.0,1096.0 C1632.7,1093.9 1634.3,1088.6 1636.0,1088.6 C1638.0,1088.6 1640.0,1089.1 1642.0,1090.0 C1644.5,1091.2 1647.1,1094.0 1649.6,1096.7 C1652.8,1100.0 1655.9,1108.8 1659.1,1108.8 C1661.8,1108.8 1664.5,1095.8 1667.2,1092.0 C1669.8,1088.3 1672.4,1087.1 1675.0,1086.0 C1677.4,1085.0 1679.8,1085.5 1682.2,1084.5 C1685.4,1083.2 1688.5,1079.0 1691.7,1069.6 C1693.5,1064.3 1695.3,1054.6 1697.1,1049.3 C1698.4,1045.5 1699.7,1041.2 1701.0,1040.0 C1702.6,1038.5 1704.3,1037.7 1705.9,1037.7 C1707.9,1037.7 1710.0,1044.1 1712.0,1048.0 C1714.3,1052.4 1716.5,1055.8 1718.8,1062.8 C1720.6,1068.3 1722.4,1076.4 1724.2,1083.2 C1725.8,1089.3 1727.4,1091.8 1729.0,1101.5 C1730.1,1108.4 1731.3,1120.5 1732.4,1127.5 C1734.2,1138.6 1736.0,1143.7 1737.8,1147.8 C1740.2,1153.3 1742.6,1154.1 1745.0,1156.0 C1747.6,1158.1 1750.2,1159.4 1752.8,1159.4 C1755.2,1159.4 1757.6,1158.2 1760.0,1156.0 C1762.1,1154.1 1764.2,1153.3 1766.3,1147.8 C1767.7,1144.2 1769.0,1129.5 1770.4,1120.7 C1771.8,1111.9 1773.1,1104.6 1774.5,1095.2 C1776.5,1081.7 1778.4,1061.8 1780.4,1049.3 C1782.2,1037.9 1784.0,1028.4 1785.8,1022.0 C1787.5,1015.8 1789.3,1012.5 1791.0,1011.0 C1792.9,1009.3 1794.7,1008.5 1796.6,1008.5 C1798.7,1008.5 1800.9,1012.9 1803.0,1016.0 C1805.4,1019.5 1807.8,1025.1 1810.2,1028.9 C1813.4,1033.9 1816.5,1041.1 1819.7,1041.1 C1823.5,1041.1 1827.2,1040.1 1831.0,1039.0 C1834.9,1037.9 1838.9,1034.3 1842.8,1034.3 C1845.9,1034.3 1848.9,1035.2 1852.0,1037.0 C1854.3,1038.3 1856.7,1038.8 1859.0,1042.5 C1859.9,1044.0 1860.9,1052.0 1861.8,1056.0 C1863.1,1061.6 1864.5,1065.4 1865.8,1069.6 C1867.5,1075.0 1869.3,1080.4 1871.0,1084.0 C1872.7,1087.5 1874.3,1091.0 1876.0,1091.0 C1877.0,1091.0 1878.0,1084.6 1879.0,1080.0 C1880.0,1075.3 1881.1,1068.1 1882.1,1062.8 C1883.1,1057.8 1884.0,1052.3 1885.0,1049.0 C1886.1,1045.3 1887.1,1042.5 1888.2,1042.5 C1889.8,1042.5 1891.4,1044.0 1893.0,1046.0 C1894.8,1048.3 1896.6,1050.1 1898.4,1056.0 C1899.8,1060.4 1901.1,1069.7 1902.5,1073.7 C1903.7,1077.2 1904.8,1078.5 1906.0,1080.0 C1907.5,1082.0 1909.1,1083.2 1910.6,1083.2 C1914.4,1083.2 1918.2,1083.1 1922.0,1083.0 C1925.9,1082.9 1929.8,1082.4 1933.7,1081.1 C1935.8,1080.4 1937.9,1078.7 1940.0,1077.0 C1942.4,1075.0 1944.8,1071.9 1947.2,1069.6 C1950.4,1066.6 1953.5,1064.6 1956.7,1061.5 C1960.3,1058.0 1964.0,1053.1 1967.6,1049.3 C1971.3,1045.4 1975.1,1041.4 1978.8,1038.4 C1981.5,1036.2 1984.3,1034.8 1987.0,1033.0 C1989.1,1031.6 1991.3,1031.6 1993.4,1028.9 C1994.3,1027.7 1995.2,1023.9 1996.1,1022.0 C1998.0,1017.9 1999.9,1014.7 2001.8,1014.7 C2003.9,1014.7 2005.9,1014.8 2008.0,1015.0 C2010.4,1015.2 2012.7,1017.3 2015.1,1022.0 C2016.5,1024.7 2017.8,1035.8 2019.2,1042.5 C2021.1,1051.9 2023.0,1062.3 2024.9,1070.0 C2026.6,1076.9 2028.3,1086.0 2030.0,1087.2 C2032.7,1089.1 2035.3,1089.3 2038.0,1090.0 C2041.3,1090.8 2044.7,1090.4 2048.0,1091.3 C2049.9,1091.8 2051.8,1105.7 2053.7,1108.0 C2056.5,1111.3 2059.2,1113.0 2062.0,1113.0 C2064.8,1113.0 2067.6,1112.8 2070.4,1112.5 C2073.0,1112.2 2075.5,1100.9 2078.1,1096.7 C2080.4,1092.9 2082.7,1090.3 2085.0,1088.0 C2087.7,1085.3 2090.3,1085.7 2093.0,1082.5 C2095.0,1080.1 2097.0,1075.4 2099.0,1073.0 C2101.1,1070.5 2103.2,1068.0 2105.3,1068.0 C2106.9,1068.0 2108.4,1070.8 2110.0,1073.0 C2111.8,1075.5 2113.6,1078.4 2115.4,1082.5 C2117.9,1088.2 2120.4,1096.4 2122.9,1105.0 C2125.6,1114.3 2128.3,1129.5 2131.0,1137.0 C2133.5,1144.0 2136.0,1147.7 2138.5,1149.9 C2142.3,1153.3 2146.2,1154.3 2150.0,1155.0 C2153.6,1155.7 2157.3,1156.0 2160.9,1156.0 C2163.3,1156.0 2165.6,1151.8 2168.0,1149.0 C2170.6,1146.0 2173.2,1142.4 2175.8,1138.3 C2178.5,1134.0 2181.3,1127.4 2184.0,1123.6 C2187.7,1118.5 2191.3,1116.4 2195.0,1114.0 C2199.0,1111.3 2203.0,1109.6 2207.0,1108.7 C2208.7,1108.3 2210.3,1108.2 2212.0,1108.0"/>
<g fill="#f00">
<circle cx="227.2" cy="1098.0" r="12.8"/>
<circle cx="250.0" cy="1098.0" r="12.8"/>
<circle cx="272.7" cy="1098.0" r="12.8"/>
<circle cx="295.5" cy="1098.0" r="12.8"/>
<circle cx="318.2" cy="1098.0" r="12.8"/>
<circle cx="341.0" cy="1098.0" r="12.8"/>
<circle cx="363.7" cy="1098.0" r="12.8"/>
<circle cx="386.5" cy="1098.0" r="12.8"/>
<circle cx="409.2" cy="1098.0" r="12.8"/>
<circle cx="432.0" cy="1098.0" r="12.8"/>
<circle cx="454.8" cy="1098.0" r="12.8"/>
<circle cx="477.5" cy="1098.0" r="12.8"/>
<circle cx="500.3" cy="1098.0" r="12.8"/>
<circle cx="523.0" cy="1023.6" r="12.8"/>
<circle cx="545.8" cy="582.6" r="12.8"/>
<circle cx="568.5" cy="968.4" r="12.8"/>
<circle cx="591.3" cy="1229.0" r="12.8"/>
<circle cx="614.1" cy="1050.0" r="12.8"/>
<circle cx="636.8" cy="1102.0" r="12.8"/>
<circle cx="659.6" cy="1179.0" r="12.8"/>
<circle cx="682.3" cy="1090.3" r="12.8"/>
<circle cx="705.1" cy="985.0" r="12.8"/>
<circle cx="727.8" cy="1110.0" r="12.8"/>
<circle cx="750.6" cy="1053.6" r="12.8"/>
<circle cx="773.3" cy="999.0" r="12.8"/>
<circle cx="796.1" cy="1116.0" r="12.8"/>
<circle cx="818.9" cy="1189.9" r="12.8"/>
<circle cx="841.6" cy="1162.5" r="12.8"/>
<circle cx="864.4" cy="1170.5" r="12.8"/>
<circle cx="887.1" cy="983.0" r="12.8"/>
<circle cx="909.9" cy="1013.0" r="12.8"/>
<circle cx="932.6" cy="1089.0" r="12.8"/>
<circle cx="955.4" cy="1179.4" r="12.8"/>
<circle cx="978.1" cy="1201.1" r="12.8"/>
<circle cx="1000.9" cy="1241.1" r="12.8"/>
<circle cx="1023.7" cy="1181.4" r="12.8"/>
<circle cx="1046.4" cy="1052.3" r="12.8"/>
<circle cx="1069.2" cy="1089.2" r="12.8"/>
<circle cx="1091.9" cy="1134.6" r="12.8"/>
<circle cx="1114.7" cy="1074.0" r="12.8"/>
<circle cx="1137.4" cy="1037.4" r="12.8"/>
<circle cx="1160.2" cy="1146.8" r="12.8"/>
<circle cx="1183.0" cy="1153.6" r="12.8"/>
<circle cx="1205.7" cy="1036.0" r="12.8"/>
<circle cx="1228.5" cy="1130.8" r="12.8"/>
<circle cx="1251.2" cy="1061.5" r="12.8"/>
<circle cx="1274.0" cy="1088.0" r="12.8"/>
<circle cx="1296.7" cy="1044.5" r="12.8"/>
<circle cx="1319.5" cy="1187.2" r="12.8"/>
<circle cx="1342.2" cy="1157.3" r="12.8"/>
<circle cx="1365.0" cy="1089.0" r="12.8"/>
<circle cx="1387.8" cy="1012.6" r="12.8"/>
<circle cx="1410.5" cy="1046.5" r="12.8"/>
<circle cx="1433.3" cy="1096.5" r="12.8"/>
<circle cx="1456.0" cy="1094.0" r="12.8"/>
<circle cx="1478.8" cy="1154.6" r="12.8"/>
<circle cx="1501.5" cy="1133.0" r="12.8"/>
<circle cx="1524.3" cy="1092.5" r="12.8"/>
<circle cx="1547.0" cy="1139.7" r="12.8"/>
<circle cx="1569.8" cy="1131.6" r="12.8"/>
<circle cx="1592.6" cy="1037.7" r="12.8"/>
<circle cx="1615.3" cy="1077.7" r="12.8"/>
<circle cx="1638.1" cy="1088.6" r="12.8"/>
<circle cx="1660.8" cy="1108.8" r="12.8"/>
<circle cx="1683.6" cy="1084.5" r="12.8"/>
<circle cx="1706.3" cy="1037.7" r="12.8"/>
<circle cx="1729.1" cy="1101.5" r="12.8"/>
<circle cx="1751.9" cy="1159.4" r="12.8"/>
<circle cx="1774.6" cy="1095.2" r="12.8"/>
<circle cx="1797.4" cy="1008.5" r="12.8"/>
<circle cx="1820.1" cy="1041.1" r="12.8"/>
<circle cx="1842.9" cy="1034.3" r="12.8"/>
<circle cx="1865.6" cy="1069.6" r="12.8"/>
<circle cx="1888.4" cy="1042.5" r="12.8"/>
<circle cx="1911.1" cy="1083.2" r="12.8"/>
<circle cx="1933.9" cy="1081.1" r="12.8"/>
<circle cx="1956.7" cy="1061.5" r="12.8"/>
<circle cx="1979.4" cy="1038.4" r="12.8"/>
<circle cx="2002.2" cy="1014.7" r="12.8"/>
<circle cx="2024.9" cy="1070.0" r="12.8"/>
<circle cx="2047.7" cy="1091.3" r="12.8"/>
<circle cx="2070.4" cy="1112.5" r="12.8"/>
<circle cx="2093.2" cy="1082.5" r="12.8"/>
<circle cx="2115.9" cy="1082.5" r="12.8"/>
<circle cx="2138.7" cy="1149.9" r="12.8"/>
<circle cx="2161.5" cy="1156.0" r="12.8"/>
<circle cx="2184.2" cy="1123.6" r="12.8"/>
<circle cx="2207.0" cy="1108.7" r="12.8"/>
</g>
<path class="ln" stroke="#00f" d="M227.2,1096.4 L250.0,1089.6 L272.7,1100.5 L295.5,1093.7 L318.2,1091.7 L341.0,1094.6 L363.7,1083.5 L386.5,1094.6 L409.2,1091.7 L432.0,1089.6 L454.8,1094.6 L477.5,1087.6 L500.3,1094.6 L523.0,1088.5 L545.8,1090.7 L568.5,1088.9 L591.3,1092.0 L614.1,1095.7 L636.8,1081.7 L659.6,1093.8 L667.0,1078.0 L675.0,1060.0 L682.3,1046.0 L685.5,1010.0 L686.8,987.0 L688.2,868.5 L690.5,830.0 L692.7,795.0 L694.5,830.0 L695.6,895.7 L697.0,987.0 L698.3,998.0 L701.0,992.0 L704.5,981.7 L706.0,990.0 L706.5,1105.0 L710.6,1048.0 L716.0,1048.0 L716.0,1160.0 L719.0,1200.0 L721.8,1231.0 L724.5,1200.0 L727.5,1160.0 L728.2,1140.0 L731.0,1050.0 L733.6,975.0 L735.0,909.3 L737.0,841.4 L739.0,812.0 L740.4,804.5 L742.0,812.0 L744.0,840.0 L747.2,882.1 L748.5,910.0 L750.0,945.0 L751.2,985.0 L751.8,996.6 C752.4,1007.2 752.9,1017.2 753.5,1025.0 C754.1,1033.2 754.7,1044.0 755.3,1044.0 C756.0,1044.0 756.8,1036.6 757.5,1030.0 C758.3,1022.5 759.2,1007.6 760.0,1000.0 C760.9,991.5 761.9,983.6 762.8,983.6 C764.2,983.6 765.6,985.8 767.0,988.0 C768.9,990.9 770.8,999.6 772.7,1000.7 C774.1,1001.6 775.6,1001.1 777.0,1002.0 C778.8,1003.1 780.7,1004.7 782.5,1010.0 C784.8,1016.5 787.0,1030.8 789.3,1041.4 C791.4,1051.0 793.4,1070.6 795.5,1070.6 C797.0,1070.6 798.5,1067.4 800.0,1066.0 C801.6,1064.5 803.3,1062.0 804.9,1062.0 C806.9,1062.0 809.0,1066.3 811.0,1068.0 C813.4,1070.0 815.8,1069.5 818.2,1072.6 C821.2,1076.4 824.2,1088.3 827.2,1095.7 C829.5,1101.3 831.7,1106.4 834.0,1112.0 C836.3,1117.7 838.6,1125.7 840.9,1129.6 C844.6,1135.9 848.3,1136.5 852.0,1139.0 C855.9,1141.6 859.8,1144.5 863.7,1144.5 C866.1,1144.5 868.6,1138.6 871.0,1133.0 C873.6,1127.1 876.2,1123.2 878.8,1109.3 C881.3,1095.8 883.9,1070.0 886.4,1051.6 C888.8,1033.9 891.3,1012.3 893.7,1000.7 C895.5,992.3 897.2,988.5 899.0,984.0 C900.9,979.3 902.7,976.7 904.6,973.6 C906.1,971.1 907.6,969.3 909.1,967.0 C910.6,964.8 912.0,961.7 913.5,960.0 C915.0,958.3 916.5,957.0 918.0,957.0 C919.0,957.0 920.0,957.3 921.0,958.0 C922.9,959.3 924.9,974.9 926.8,988.5 C928.5,1000.7 930.3,1019.4 932.0,1033.3 C934.3,1052.0 936.7,1067.2 939.0,1083.5 C940.1,1091.4 941.3,1097.6 942.4,1107.0 C944.0,1120.0 945.5,1141.9 947.1,1155.0 C948.9,1170.3 950.8,1179.3 952.6,1189.0 C953.3,1192.9 954.1,1196.8 954.8,1199.8 C956.3,1205.9 957.8,1210.0 959.3,1210.0 C961.6,1210.0 963.8,1196.2 966.1,1189.0 C968.8,1180.3 971.6,1171.5 974.3,1161.8 C975.3,1158.3 976.3,1155.8 977.3,1150.9 C979.0,1142.5 980.7,1125.8 982.4,1114.3 C984.2,1102.2 986.0,1088.3 987.8,1080.4 C989.6,1072.3 991.5,1069.5 993.3,1066.8 C995.6,1063.5 997.9,1061.8 1000.2,1061.8 C1002.1,1061.8 1004.1,1062.5 1006.0,1064.0 C1008.1,1065.6 1010.2,1075.5 1012.3,1076.7 C1013.9,1077.6 1015.4,1078.0 1017.0,1078.0 C1019.0,1078.0 1021.0,1076.0 1023.0,1074.8 C1025.3,1073.4 1027.7,1071.1 1030.0,1070.0 C1032.2,1068.9 1034.5,1068.0 1036.7,1068.0 C1038.1,1068.0 1039.6,1071.6 1041.0,1074.0 C1042.6,1076.7 1044.1,1080.5 1045.7,1083.6 C1048.1,1088.4 1050.6,1093.7 1053.0,1097.0 C1056.2,1101.3 1059.3,1102.3 1062.5,1103.9 C1064.5,1104.9 1066.5,1106.0 1068.5,1106.0 C1071.5,1106.0 1074.4,1103.0 1077.4,1097.0 C1079.2,1093.4 1081.0,1080.1 1082.8,1070.0 C1084.6,1059.8 1086.5,1043.8 1088.3,1036.0 C1089.3,1031.9 1090.2,1031.0 1091.2,1026.5 C1092.5,1020.6 1093.7,1007.9 1095.0,1002.0 C1096.3,995.8 1097.7,992.9 1099.0,991.0 C1100.2,989.3 1101.3,988.5 1102.5,988.5 C1103.7,988.5 1104.8,991.9 1106.0,996.0 C1107.3,1000.6 1108.6,1006.0 1109.9,1015.7 C1111.3,1025.9 1112.6,1045.1 1114.0,1056.4 C1115.4,1067.7 1116.7,1074.6 1118.1,1083.5 C1119.5,1092.4 1120.8,1102.6 1122.2,1110.0 C1123.8,1118.6 1125.4,1125.0 1127.0,1130.0 C1128.1,1133.4 1129.2,1138.0 1130.3,1138.0 C1131.5,1138.0 1132.8,1135.5 1134.0,1133.0 C1135.1,1130.7 1136.3,1127.8 1137.4,1124.0 C1139.6,1116.8 1141.7,1102.7 1143.9,1094.0 C1145.7,1086.8 1147.5,1079.6 1149.3,1075.0 C1151.6,1069.2 1153.8,1068.5 1156.1,1066.0 C1157.5,1064.5 1158.8,1062.0 1160.2,1062.0 C1162.9,1062.0 1165.6,1071.6 1168.3,1076.7 C1170.6,1081.0 1172.8,1085.6 1175.1,1090.0 C1177.7,1095.0 1180.3,1105.0 1182.9,1105.0 C1183.9,1105.0 1185.0,1104.7 1186.0,1104.0 C1187.8,1102.8 1189.6,1099.0 1191.4,1095.0 C1194.1,1089.0 1196.8,1080.6 1199.5,1070.0 C1201.6,1061.9 1203.6,1055.5 1205.7,1041.6 C1206.8,1034.2 1207.9,1022.4 1209.0,1015.7 C1210.3,1007.6 1211.7,1003.0 1213.0,1000.0 C1214.5,996.7 1216.0,995.0 1217.5,995.0 C1218.5,995.0 1219.5,996.3 1220.5,999.0 C1221.3,1001.2 1222.2,1005.0 1223.0,1008.5 C1224.8,1016.3 1226.7,1025.2 1228.5,1037.0 C1229.4,1042.8 1230.3,1049.9 1231.2,1056.0 C1233.0,1068.2 1234.8,1079.9 1236.6,1090.0 C1239.3,1105.3 1242.1,1116.7 1244.8,1127.0 C1246.9,1135.0 1249.1,1135.3 1251.2,1147.2 C1252.2,1153.0 1253.3,1162.2 1254.3,1168.2 C1256.1,1178.6 1257.9,1187.3 1259.7,1190.0 C1261.5,1192.7 1263.3,1194.0 1265.1,1194.0 C1266.7,1194.0 1268.4,1190.8 1270.0,1186.0 C1271.3,1182.1 1272.7,1176.9 1274.0,1170.2 C1275.6,1162.4 1277.1,1151.0 1278.7,1141.0 C1280.1,1132.2 1281.4,1120.6 1282.8,1114.0 C1284.6,1105.3 1286.4,1103.1 1288.2,1100.4 C1291.0,1096.1 1293.9,1097.0 1296.7,1094.0 C1298.8,1091.8 1300.9,1089.2 1303.0,1086.0 C1304.8,1083.2 1306.7,1081.4 1308.5,1076.4 C1310.8,1070.2 1313.0,1057.3 1315.3,1049.3 C1316.7,1044.4 1318.1,1042.2 1319.5,1035.7 C1320.8,1029.5 1322.2,1017.5 1323.5,1012.0 C1324.7,1007.2 1325.8,1004.4 1327.0,1003.0 C1328.1,1001.7 1329.2,1001.0 1330.3,1001.0 C1331.4,1001.0 1332.4,1001.7 1333.5,1003.0 C1334.7,1004.5 1335.8,1007.5 1337.0,1012.0 C1338.7,1018.7 1340.5,1033.0 1342.2,1041.8 C1343.2,1046.9 1344.2,1051.8 1345.2,1056.0 C1347.0,1063.6 1348.8,1070.6 1350.6,1074.0 C1352.7,1078.0 1354.9,1080.0 1357.0,1080.0 C1359.7,1080.0 1362.3,1079.5 1365.0,1078.4 C1368.8,1076.9 1372.6,1072.9 1376.4,1069.6 C1380.2,1066.3 1384.0,1058.8 1387.8,1058.8 C1390.3,1058.8 1392.9,1068.4 1395.4,1076.4 C1397.2,1082.1 1399.0,1091.2 1400.8,1096.7 C1404.0,1106.6 1407.3,1111.4 1410.5,1114.5 C1413.6,1117.5 1416.7,1117.6 1419.8,1119.0 C1424.3,1121.1 1428.8,1120.9 1433.3,1124.7 C1434.9,1126.0 1436.4,1129.3 1438.0,1131.0 C1439.6,1132.8 1441.3,1135.0 1442.9,1135.0 C1444.3,1135.0 1445.6,1131.6 1447.0,1128.0 C1448.3,1124.5 1449.7,1119.1 1451.0,1114.0 C1452.7,1107.6 1454.3,1100.6 1456.0,1092.7 C1457.5,1085.6 1459.0,1075.5 1460.5,1069.6 C1462.3,1062.5 1464.1,1060.0 1465.9,1056.0 C1470.2,1046.4 1474.5,1040.7 1478.8,1035.7 C1482.2,1031.7 1485.6,1029.5 1489.0,1027.0 C1493.2,1024.0 1497.3,1020.0 1501.5,1020.0 C1503.4,1020.0 1505.2,1029.8 1507.1,1035.7 C1509.4,1042.8 1511.6,1053.5 1513.9,1060.0 C1517.4,1070.0 1520.8,1079.0 1524.3,1079.0 C1526.2,1079.0 1528.1,1071.1 1530.0,1068.0 C1532.1,1064.5 1534.2,1059.5 1536.3,1059.5 C1537.9,1059.5 1539.4,1061.7 1541.0,1064.0 C1543.0,1067.0 1545.0,1071.5 1547.0,1077.0 C1548.6,1081.5 1550.3,1089.0 1551.9,1092.7 C1555.1,1099.9 1558.2,1098.8 1561.4,1103.5 C1564.2,1107.7 1567.0,1113.9 1569.8,1118.6 C1572.2,1122.6 1574.6,1127.5 1577.0,1130.0 C1579.0,1132.1 1581.1,1133.5 1583.1,1133.5 C1584.7,1133.5 1586.4,1132.0 1588.0,1131.0 C1589.5,1130.0 1591.1,1129.8 1592.6,1127.5 C1594.4,1124.8 1596.2,1113.7 1598.0,1103.5 C1599.4,1095.7 1600.7,1084.5 1602.1,1076.4 C1603.9,1065.7 1605.7,1054.3 1607.5,1049.3 C1610.1,1042.0 1612.7,1041.9 1615.3,1038.4 C1617.2,1035.9 1619.1,1032.9 1621.0,1031.0 C1623.1,1029.0 1625.1,1027.0 1627.2,1027.0 C1629.2,1027.0 1631.3,1029.9 1633.3,1035.7 C1634.9,1040.2 1636.4,1048.8 1638.0,1060.0 C1639.2,1068.3 1640.3,1081.4 1641.5,1090.0 C1643.3,1103.3 1645.1,1112.3 1646.9,1120.0 C1648.9,1128.7 1651.0,1136.0 1653.0,1137.0 C1655.6,1138.3 1658.2,1139.0 1660.8,1139.0 C1663.2,1139.0 1665.6,1125.7 1668.0,1122.0 C1670.0,1118.9 1672.0,1120.3 1674.0,1117.0 C1677.2,1111.7 1680.4,1102.0 1683.6,1085.9 C1684.9,1079.2 1686.3,1068.1 1687.6,1062.8 C1689.1,1057.0 1690.5,1055.7 1692.0,1054.0 C1693.7,1052.0 1695.4,1051.0 1697.1,1051.0 C1698.7,1051.0 1700.4,1053.0 1702.0,1055.0 C1703.4,1056.8 1704.9,1059.5 1706.3,1062.0 C1708.7,1066.2 1711.0,1072.5 1713.4,1076.4 C1714.3,1077.9 1715.2,1080.5 1716.1,1080.5 C1718.1,1080.5 1720.0,1077.7 1722.0,1076.0 C1724.4,1074.0 1726.7,1069.0 1729.1,1069.0 C1732.9,1069.0 1736.7,1080.5 1740.5,1080.5 C1744.3,1080.5 1748.1,1064.9 1751.9,1064.9 C1754.0,1064.9 1756.1,1071.2 1758.2,1076.4 C1760.0,1080.9 1761.8,1091.9 1763.6,1093.0 C1764.7,1093.7 1765.9,1094.0 1767.0,1094.0 C1769.5,1094.0 1772.1,1087.0 1774.6,1079.1 C1776.5,1073.1 1778.5,1062.3 1780.4,1056.0 C1783.6,1045.6 1786.7,1043.2 1789.9,1035.7 C1792.4,1029.8 1794.9,1016.7 1797.4,1016.7 C1798.5,1016.7 1799.6,1019.7 1800.7,1022.0 C1803.4,1027.7 1806.1,1037.4 1808.8,1049.3 C1810.2,1055.3 1811.5,1063.9 1812.9,1069.6 C1815.3,1079.6 1817.7,1083.0 1820.1,1089.7 C1821.8,1094.3 1823.4,1099.6 1825.1,1103.5 C1827.8,1109.9 1830.6,1112.8 1833.3,1117.0 C1835.1,1119.8 1836.9,1121.6 1838.7,1125.0 C1840.1,1127.7 1841.5,1134.3 1842.9,1134.3 C1844.6,1134.3 1846.3,1130.3 1848.0,1128.0 C1850.3,1124.8 1852.7,1120.6 1855.0,1117.0 C1858.5,1111.5 1862.1,1106.5 1865.6,1100.6 C1868.8,1095.2 1872.1,1089.0 1875.3,1083.2 C1878.5,1077.5 1881.6,1077.4 1884.8,1066.0 C1886.0,1061.7 1887.2,1055.2 1888.4,1050.6 C1890.8,1041.2 1893.3,1033.5 1895.7,1028.9 C1898.1,1024.3 1900.6,1023.2 1903.0,1022.0 C1905.7,1020.7 1908.4,1020.0 1911.1,1020.0 C1915.0,1020.0 1918.9,1020.7 1922.8,1022.0 C1924.6,1022.6 1926.4,1031.1 1928.2,1035.7 C1930.1,1040.6 1932.0,1050.6 1933.9,1050.6 C1937.3,1050.6 1940.6,1046.0 1944.0,1044.0 C1948.2,1041.5 1952.5,1039.8 1956.7,1037.7 C1960.8,1035.7 1964.8,1031.6 1968.9,1031.6 C1969.8,1031.6 1970.8,1051.5 1971.7,1056.0 C1974.3,1068.3 1976.8,1069.2 1979.4,1074.4 C1982.3,1080.2 1985.1,1088.0 1988.0,1088.0 C1992.7,1088.0 1997.5,1083.9 2002.2,1083.9 C2004.5,1083.9 2006.7,1089.2 2009.0,1091.0 C2011.0,1092.6 2013.1,1094.5 2015.1,1094.5 C2016.9,1094.5 2018.7,1084.9 2020.5,1076.4 C2022.0,1069.5 2023.4,1058.0 2024.9,1050.6 C2026.6,1042.1 2028.3,1031.9 2030.0,1030.0 C2031.8,1028.0 2033.7,1027.0 2035.5,1027.0 C2037.7,1027.0 2040.0,1031.1 2042.2,1035.7 C2044.0,1039.5 2045.9,1046.7 2047.7,1050.6 C2049.1,1053.7 2050.6,1056.3 2052.0,1058.0 C2053.5,1059.8 2054.9,1061.0 2056.4,1061.0 C2059.1,1061.0 2061.8,1056.0 2064.5,1049.3 C2066.5,1044.4 2068.4,1035.5 2070.4,1030.3 C2073.0,1023.5 2075.5,1020.4 2078.1,1015.3 C2080.4,1010.8 2082.6,1005.9 2084.9,1001.8 C2087.7,996.8 2090.4,988.9 2093.2,988.9 C2095.0,988.9 2096.7,1002.5 2098.5,1008.5 C2100.8,1016.2 2103.0,1022.9 2105.3,1028.9 C2108.8,1038.2 2112.4,1041.9 2115.9,1050.6 C2118.2,1056.3 2120.6,1064.2 2122.9,1069.6 C2124.7,1073.8 2126.5,1080.5 2128.3,1080.5 C2131.8,1080.5 2135.2,1076.9 2138.7,1075.0 C2142.0,1073.2 2145.4,1071.0 2148.7,1069.6 C2153.0,1067.8 2157.2,1067.9 2161.5,1066.2 C2165.4,1064.6 2169.2,1060.0 2173.1,1060.0 C2176.8,1060.0 2180.5,1061.5 2184.2,1061.5 C2187.3,1061.5 2190.3,1058.5 2193.4,1056.0 C2195.7,1054.1 2197.9,1052.0 2200.2,1049.3 C2202.5,1046.6 2204.7,1042.4 2207.0,1039.8 C2208.7,1037.9 2210.3,1036.6 2212.0,1035.0"/>
<path fill="#00f" d="M227.2,1078.7 l15.2,26.6 h-30.4z M250.0,1071.9 l15.2,26.6 h-30.4z M272.7,1082.8 l15.2,26.6 h-30.4z M295.5,1076.0 l15.2,26.6 h-30.4z M318.2,1074.0 l15.2,26.6 h-30.4z M341.0,1076.9 l15.2,26.6 h-30.4z M363.7,1065.8 l15.2,26.6 h-30.4z M386.5,1076.9 l15.2,26.6 h-30.4z M409.2,1074.0 l15.2,26.6 h-30.4z M432.0,1071.9 l15.2,26.6 h-30.4z M454.8,1076.9 l15.2,26.6 h-30.4z M477.5,1069.9 l15.2,26.6 h-30.4z M500.3,1076.9 l15.2,26.6 h-30.4z M523.0,1070.8 l15.2,26.6 h-30.4z M545.8,1073.0 l15.2,26.6 h-30.4z M568.5,1071.2 l15.2,26.6 h-30.4z M591.3,1074.3 l15.2,26.6 h-30.4z M614.1,1078.0 l15.2,26.6 h-30.4z M636.8,1064.0 l15.2,26.6 h-30.4z M659.6,1076.1 l15.2,26.6 h-30.4z M682.3,1028.3 l15.2,26.6 h-30.4z M705.1,964.0 l15.2,26.6 h-30.4z M727.8,1130.1 l15.2,26.6 h-30.4z M750.6,978.9 l15.2,26.6 h-30.4z M773.3,983.0 l15.2,26.6 h-30.4z M796.1,1052.9 l15.2,26.6 h-30.4z M818.9,1054.9 l15.2,26.6 h-30.4z M841.6,1111.9 l15.2,26.6 h-30.4z M864.4,1126.8 l15.2,26.6 h-30.4z M887.1,1033.9 l15.2,26.6 h-30.4z M909.9,949.3 l15.2,26.6 h-30.4z M932.6,1015.6 l15.2,26.6 h-30.4z M955.4,1182.1 l15.2,26.6 h-30.4z M978.1,1133.2 l15.2,26.6 h-30.4z M1000.9,1044.1 l15.2,26.6 h-30.4z M1023.7,1057.1 l15.2,26.6 h-30.4z M1046.4,1065.9 l15.2,26.6 h-30.4z M1069.2,1093.9 l15.2,26.6 h-30.4z M1091.9,1008.8 l15.2,26.6 h-30.4z M1114.7,1038.7 l15.2,26.6 h-30.4z M1137.4,1110.1 l15.2,26.6 h-30.4z M1160.2,1043.9 l15.2,26.6 h-30.4z M1183.0,1087.3 l15.2,26.6 h-30.4z M1205.7,1023.9 l15.2,26.6 h-30.4z M1228.5,1019.3 l15.2,26.6 h-30.4z M1251.2,1129.5 l15.2,26.6 h-30.4z M1274.0,1152.5 l15.2,26.6 h-30.4z M1296.7,1076.3 l15.2,26.6 h-30.4z M1319.5,1018.0 l15.2,26.6 h-30.4z M1342.2,1024.1 l15.2,26.6 h-30.4z M1365.0,1060.7 l15.2,26.6 h-30.4z M1387.8,1041.1 l15.2,26.6 h-30.4z M1410.5,1096.8 l15.2,26.6 h-30.4z M1433.3,1107.0 l15.2,26.6 h-30.4z M1456.0,1075.0 l15.2,26.6 h-30.4z M1478.8,1018.0 l15.2,26.6 h-30.4z M1501.5,1002.3 l15.2,26.6 h-30.4z M1524.3,1061.3 l15.2,26.6 h-30.4z M1547.0,1059.3 l15.2,26.6 h-30.4z M1569.8,1100.9 l15.2,26.6 h-30.4z M1592.6,1109.8 l15.2,26.6 h-30.4z M1615.3,1020.7 l15.2,26.6 h-30.4z M1638.1,1042.3 l15.2,26.6 h-30.4z M1660.8,1121.3 l15.2,26.6 h-30.4z M1683.6,1068.2 l15.2,26.6 h-30.4z M1706.3,1044.3 l15.2,26.6 h-30.4z M1729.1,1051.3 l15.2,26.6 h-30.4z M1751.9,1047.2 l15.2,26.6 h-30.4z M1774.6,1061.4 l15.2,26.6 h-30.4z M1797.4,999.0 l15.2,26.6 h-30.4z M1820.1,1072.0 l15.2,26.6 h-30.4z M1842.9,1116.6 l15.2,26.6 h-30.4z M1865.6,1082.9 l15.2,26.6 h-30.4z M1888.4,1032.9 l15.2,26.6 h-30.4z M1911.1,1002.3 l15.2,26.6 h-30.4z M1933.9,1032.9 l15.2,26.6 h-30.4z M1956.7,1020.0 l15.2,26.6 h-30.4z M1979.4,1056.7 l15.2,26.6 h-30.4z M2002.2,1066.2 l15.2,26.6 h-30.4z M2024.9,1032.9 l15.2,26.6 h-30.4z M2047.7,1032.9 l15.2,26.6 h-30.4z M2070.4,1012.6 l15.2,26.6 h-30.4z M2093.2,971.2 l15.2,26.6 h-30.4z M2115.9,1032.9 l15.2,26.6 h-30.4z M2138.7,1057.3 l15.2,26.6 h-30.4z M2161.5,1048.5 l15.2,26.6 h-30.4z M2184.2,1043.8 l15.2,26.6 h-30.4z M2207.0,1022.1 l15.2,26.6 h-30.4z"/>
</g>
<g id="legend">
<rect x="1484" y="108.5" width="612.9" height="265" fill="#fff" stroke="#000" stroke-width="3.6"/>
<path class="ln" stroke="#000" stroke-width="6.8" d="M1498.3,156.4 H1658.9"/>
<path class="ln" stroke="#f00" stroke-width="6.8" d="M1498.3,246.3 H1658.9"/>
<path class="ln" stroke="#00f" stroke-width="6.8" d="M1498.3,333.5 H1658.9"/>
<circle cx="1578.3" cy="246.2" r="12.7" fill="#f00"/>
<path fill="#00f" d="M1578.4,316.0 l15.2,26.6 h-30.4z"/>
<text font-size="65"><tspan x="1693.02" y="184.10" textLength="27.63" lengthAdjust="spacingAndGlyphs">1</tspan><tspan x="1722.40" y="184.10" textLength="42.92" lengthAdjust="spacingAndGlyphs">m</tspan><tspan x="1765.44" y="201.84" textLength="34.21" lengthAdjust="spacingAndGlyphs" font-size="82.01">*</tspan><tspan x="1800.47" y="184.10" textLength="27.63" lengthAdjust="spacingAndGlyphs">1</tspan><tspan x="1831.24" y="184.10" textLength="16.25" lengthAdjust="spacingAndGlyphs">.</tspan><tspan x="1864.04" y="184.10" textLength="30.59" lengthAdjust="spacingAndGlyphs">5</tspan><tspan x="1895.99" y="184.10" textLength="32.61" lengthAdjust="spacingAndGlyphs">m</tspan><tspan x="1927.69" y="201.84" textLength="34.21" lengthAdjust="spacingAndGlyphs" font-size="82.01">*</tspan><tspan x="1961.58" y="184.10" textLength="31.45" lengthAdjust="spacingAndGlyphs">0</tspan><tspan x="1993.49" y="184.10" textLength="16.25" lengthAdjust="spacingAndGlyphs">.</tspan><tspan x="2027.14" y="184.10" textLength="29.93" lengthAdjust="spacingAndGlyphs">4</tspan><tspan x="2058.24" y="184.10" textLength="32.61" lengthAdjust="spacingAndGlyphs">m</tspan></text>
<text font-size="65"><tspan x="1693.02" y="274.20" textLength="27.63" lengthAdjust="spacingAndGlyphs">1</tspan><tspan x="1722.24" y="274.20" textLength="32.61" lengthAdjust="spacingAndGlyphs">m</tspan><tspan x="1753.94" y="291.94" textLength="34.21" lengthAdjust="spacingAndGlyphs" font-size="82.01">*</tspan><tspan x="1788.97" y="274.20" textLength="27.63" lengthAdjust="spacingAndGlyphs">1</tspan><tspan x="1819.74" y="274.20" textLength="16.25" lengthAdjust="spacingAndGlyphs">.</tspan><tspan x="1852.54" y="274.20" textLength="30.59" lengthAdjust="spacingAndGlyphs">5</tspan><tspan x="1884.49" y="274.20" textLength="32.61" lengthAdjust="spacingAndGlyphs">m</tspan><tspan x="1916.19" y="291.94" textLength="34.21" lengthAdjust="spacingAndGlyphs" font-size="82.01">*</tspan><tspan x="1950.08" y="274.20" textLength="31.45" lengthAdjust="spacingAndGlyphs">0</tspan><tspan x="1981.99" y="274.20" textLength="16.25" lengthAdjust="spacingAndGlyphs">.</tspan><tspan x="2014.94" y="274.20" textLength="32.33" lengthAdjust="spacingAndGlyphs">2</tspan><tspan x="2046.74" y="274.20" textLength="32.61" lengthAdjust="spacingAndGlyphs">m</tspan></text>
<text font-size="65"><tspan x="1693.02" y="361.50" textLength="27.63" lengthAdjust="spacingAndGlyphs">1</tspan><tspan x="1722.24" y="361.50" textLength="32.61" lengthAdjust="spacingAndGlyphs">m</tspan><tspan x="1753.94" y="379.24" textLength="34.21" lengthAdjust="spacingAndGlyphs" font-size="82.01">*</tspan><tspan x="1787.83" y="361.50" textLength="31.45" lengthAdjust="spacingAndGlyphs">0</tspan><tspan x="1819.74" y="361.50" textLength="16.25" lengthAdjust="spacingAndGlyphs">.</tspan><tspan x="1852.54" y="361.50" textLength="30.59" lengthAdjust="spacingAndGlyphs">5</tspan><tspan x="1884.49" y="361.50" textLength="32.61" lengthAdjust="spacingAndGlyphs">m</tspan><tspan x="1916.19" y="379.24" textLength="34.21" lengthAdjust="spacingAndGlyphs" font-size="82.01">*</tspan><tspan x="1950.08" y="361.50" textLength="31.45" lengthAdjust="spacingAndGlyphs">0</tspan><tspan x="1981.99" y="361.50" textLength="16.25" lengthAdjust="spacingAndGlyphs">.</tspan><tspan x="2015.11" y="361.50" textLength="30.35" lengthAdjust="spacingAndGlyphs">6</tspan><tspan x="2046.74" y="361.50" textLength="32.61" lengthAdjust="spacingAndGlyphs">m</tspan></text>
</g>
</svg></body></html>
